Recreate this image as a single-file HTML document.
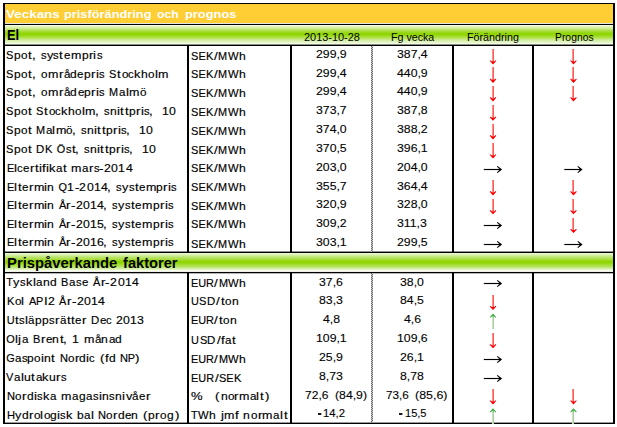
<!DOCTYPE html>
<html><head><meta charset="utf-8"><style>
html,body{margin:0;padding:0;background:#fff;width:617px;height:427px;overflow:hidden;position:relative}
.l,.t,.a{position:absolute}
.t{font-family:"Liberation Sans", sans-serif;white-space:pre;color:#000;transform-origin:0 0}
.v{-webkit-text-stroke:0.15px #000}
.n{-webkit-text-stroke:0.1px #000}
.dotA{background:repeating-linear-gradient(to bottom,#666 0px,#666 1px,#c8c8c8 1px,#c8c8c8 2px)}
.dotB{background:repeating-linear-gradient(to bottom,#c8c8c8 0px,#c8c8c8 1px,#666 1px,#666 2px)}
</style></head><body>
<div class="l" style="left:5px;top:4px;width:608px;height:19px;background:#ffcd34"></div>
<div class="l" style="left:5px;top:23px;width:608px;height:1px;background:#e4e4e2"></div>
<div class="l" style="left:5px;top:25px;width:608px;height:19px;background:linear-gradient(to bottom,#f4fde0 0px,#f4fde0 1px,#e4f4c0 1px,#e4f4c0 2px,#d8f0a8 2px,#d8f0a8 3px,#cdeb90 3px,#cdeb90 4px,#c0e670 4px,#c0e670 5px,#b0e048 5px,#b0e048 6px,#a6dc38 6px,#a6dc38 7px,#9ad820 7px,#9ad820 8px,#90d600 8px,#90d600 9px,#90d600 9px,#90d600 10px,#98d818 10px,#98d818 11px,#a4dc30 11px,#a4dc30 12px,#b0e048 12px,#b0e048 13px,#bce468 13px,#bce468 14px,#c8e888 14px,#c8e888 15px,#d4eea4 15px,#d4eea4 16px,#dcf2b8 16px,#dcf2b8 17px,#e6f6cc 17px,#e6f6cc 18px,#f2fce0 18px,#f2fce0 19px)"></div>
<div class="l" style="left:5px;top:253px;width:608px;height:19px;background:linear-gradient(to bottom,#e8f8c8 0px,#e8f8c8 1px,#dcf2b4 1px,#dcf2b4 2px,#d0eca0 2px,#d0eca0 3px,#c4e880 3px,#c4e880 4px,#b8e468 4px,#b8e468 5px,#b0e050 5px,#b0e050 6px,#a6dc3a 6px,#a6dc3a 7px,#9ad820 7px,#9ad820 8px,#90d600 8px,#90d600 9px,#90d600 9px,#90d600 10px,#98d818 10px,#98d818 11px,#a4dc30 11px,#a4dc30 12px,#ace048 12px,#ace048 13px,#b4e25a 13px,#b4e25a 14px,#c4e880 14px,#c4e880 15px,#d2eea0 15px,#d2eea0 16px,#e2f4c4 16px,#e2f4c4 17px,#f8fee8 17px,#f8fee8 18px,#eeeee8 18px,#eeeee8 19px)"></div>
<div class="l" style="left:3px;top:3px;width:612px;height:1px;background:#000"></div>
<div class="l" style="left:3px;top:24px;width:612px;height:1px;background:#000"></div>
<div class="l" style="left:3px;top:44px;width:612px;height:1px;background:#8a8a84"></div>
<div class="l" style="left:3px;top:45px;width:612px;height:1px;background:#000"></div>
<div class="l" style="left:3px;top:251px;width:612px;height:1px;background:#909090"></div>
<div class="l" style="left:3px;top:252px;width:612px;height:1px;background:#000"></div>
<div class="l" style="left:3px;top:272px;width:612px;height:1px;background:#000"></div>
<div class="l" style="left:3px;top:273px;width:612px;height:1px;background:#b4b4b4"></div>
<div class="l" style="left:3px;top:422px;width:612px;height:1px;background:#9a9a9a"></div>
<div class="l" style="left:3px;top:423px;width:612px;height:1px;background:#000"></div>
<div class="l" style="left:3px;top:3px;width:2px;height:421px;background:#000"></div>
<div class="l" style="left:613px;top:3px;width:2px;height:421px;background:#000"></div>
<div class="l" style="left:187px;top:45px;width:2px;height:207px;background:#000"></div>
<div class="l" style="left:187px;top:273px;width:2px;height:150px;background:#000"></div>
<div class="l" style="left:290px;top:45px;width:2px;height:207px;background:#000"></div>
<div class="l" style="left:290px;top:273px;width:2px;height:150px;background:#000"></div>
<div class="l" style="left:452px;top:45px;width:2px;height:207px;background:#000"></div>
<div class="l" style="left:452px;top:273px;width:2px;height:150px;background:#000"></div>
<div class="l" style="left:532px;top:45px;width:2px;height:207px;background:#000"></div>
<div class="l" style="left:532px;top:273px;width:2px;height:150px;background:#000"></div>
<div class="l dotA" style="left:371px;top:46px;width:1px;height:206px"></div>
<div class="l dotB" style="left:372px;top:46px;width:1px;height:206px"></div>
<div class="l dotA" style="left:371px;top:273px;width:1px;height:149px"></div>
<div class="l dotB" style="left:372px;top:273px;width:1px;height:149px"></div>
<div class="t " style="left:6.10px;top:9.00px;font-size:11.8px;line-height:11.8px;transform:scaleX(1.1390);font-weight:bold;color:#fff">Veckans</div>
<div class="t " style="left:63.90px;top:9.00px;font-size:11.8px;line-height:11.8px;transform:scaleX(1.0851);font-weight:bold;color:#fff">prisförändring</div>
<div class="t " style="left:157.20px;top:9.00px;font-size:11.8px;line-height:11.8px;transform:scaleX(1.0391);font-weight:bold;color:#fff">och</div>
<div class="t " style="left:184.70px;top:9.00px;font-size:11.8px;line-height:11.8px;transform:scaleX(1.0890);font-weight:bold;color:#fff">prognos</div>
<div class="t " style="left:7.00px;top:28.00px;font-size:14.4px;line-height:14.4px;transform:scaleX(0.8892);font-weight:bold">El</div>
<div class="t " style="left:6.90px;top:256.00px;font-size:14.6px;line-height:14.6px;transform:scaleX(1.0151);font-weight:bold">Prispåverkande</div>
<div class="t " style="left:123.40px;top:256.00px;font-size:14.6px;line-height:14.6px;transform:scaleX(1.0042);font-weight:bold">faktorer</div>
<div class="t " style="left:303.90px;top:32.00px;font-size:10.5px;line-height:10.5px;transform:scaleX(1.0408)">2013-10-28</div>
<div class="t " style="left:391.00px;top:32.00px;font-size:10.5px;line-height:10.5px;transform:scaleX(1.0162)">Fg vecka</div>
<div class="t " style="left:467.30px;top:32.00px;font-size:10.5px;line-height:10.5px;transform:scaleX(1.0221)">Förändring</div>
<div class="t " style="left:554.60px;top:32.00px;font-size:10.5px;line-height:10.5px;transform:scaleX(0.9869)">Prognos</div>
<div class="t v" style="left:6.30px;top:50px;font-size:10.9px;line-height:10.9px;transform:scaleX(1.010)">S</div>
<div class="t v" style="left:14.06px;top:50px;font-size:10.9px;line-height:10.9px;transform:scaleX(1.101)">p</div>
<div class="t v" style="left:21.13px;top:50px;font-size:10.9px;line-height:10.9px;transform:scaleX(1.073)">o</div>
<div class="t v" style="left:28.22px;top:50px;font-size:10.9px;line-height:10.9px;transform:scaleX(1.220)">t</div>
<div class="t v" style="left:31.52px;top:50px;font-size:10.9px;line-height:10.9px;transform:scaleX(1.220)">,</div>
<div class="t v" style="left:40.60px;top:50px;font-size:10.9px;line-height:10.9px;transform:scaleX(1.024)">s</div>
<div class="t v" style="left:46.54px;top:50px;font-size:10.9px;line-height:10.9px;transform:scaleX(1.170)">y</div>
<div class="t v" style="left:53.27px;top:50px;font-size:10.9px;line-height:10.9px;transform:scaleX(1.024)">s</div>
<div class="t v" style="left:59.41px;top:50px;font-size:10.9px;line-height:10.9px;transform:scaleX(1.220)">t</div>
<div class="t v" style="left:63.69px;top:50px;font-size:10.9px;line-height:10.9px;transform:scaleX(1.053)">e</div>
<div class="t v" style="left:70.58px;top:50px;font-size:10.9px;line-height:10.9px;transform:scaleX(1.148)">m</div>
<div class="t v" style="left:81.51px;top:50px;font-size:10.9px;line-height:10.9px;transform:scaleX(1.101)">p</div>
<div class="t v" style="left:88.60px;top:50px;font-size:10.9px;line-height:10.9px;transform:scaleX(1.220)">r</div>
<div class="t v" style="left:93.32px;top:50px;font-size:10.9px;line-height:10.9px;transform:scaleX(1.214)">i</div>
<div class="t v" style="left:96.52px;top:50px;font-size:10.9px;line-height:10.9px;transform:scaleX(1.024)">s</div>
<div class="t v" style="left:191.10px;top:51px;font-size:10.9px;line-height:10.9px;transform:scaleX(1.010)">S</div>
<div class="t v" style="left:198.45px;top:51px;font-size:10.9px;line-height:10.9px;transform:scaleX(1.000)">E</div>
<div class="t v" style="left:205.72px;top:51px;font-size:10.9px;line-height:10.9px;transform:scaleX(1.024)">K</div>
<div class="t v" style="left:213.90px;top:51px;font-size:10.9px;line-height:10.9px;transform:scaleX(1.220)">/</div>
<div class="t v" style="left:218.35px;top:51px;font-size:10.9px;line-height:10.9px;transform:scaleX(1.001)">M</div>
<div class="t v" style="left:227.79px;top:51px;font-size:10.9px;line-height:10.9px;transform:scaleX(1.032)">W</div>
<div class="t v" style="left:238.72px;top:51px;font-size:10.9px;line-height:10.9px;transform:scaleX(1.119)">h</div>
<div class="t n" style="left:316.06px;top:49.00px;font-size:11.0px;line-height:11.0px;transform:scaleX(1.1150)">299,9</div>
<div class="t n" style="left:396.76px;top:49.00px;font-size:11.0px;line-height:11.0px;transform:scaleX(1.1150)">387,4</div>
<div class="l" style="left:492px;top:49px;width:1px;height:13px;background:#ff9a4a"></div><div class="l" style="left:493px;top:49px;width:1px;height:13px;background:#ff4d9a"></div><svg class="a" style="left:487px;top:58px" width="12" height="7" viewBox="487 58 12 7"><path d="M490.1 60.5L493.0 63.7L495.9 60.5" stroke="#ff0000" stroke-width="1.1" fill="none"/><path d="M490.8 61.4L495.2 61.4L493.0 64.0Z" fill="#ff0000"/></svg>
<div class="l" style="left:572px;top:49px;width:1px;height:13px;background:#ff9a4a"></div><div class="l" style="left:573px;top:49px;width:1px;height:13px;background:#ff4d9a"></div><svg class="a" style="left:567px;top:58px" width="13" height="7" viewBox="567 58 13 7"><path d="M570.6 60.5L573.5 63.7L576.4 60.5" stroke="#ff0000" stroke-width="1.1" fill="none"/><path d="M571.3 61.4L575.7 61.4L573.5 64.0Z" fill="#ff0000"/></svg>
<div class="t v" style="left:6.30px;top:69px;font-size:10.9px;line-height:10.9px;transform:scaleX(1.010)">S</div>
<div class="t v" style="left:14.08px;top:69px;font-size:10.9px;line-height:10.9px;transform:scaleX(1.101)">p</div>
<div class="t v" style="left:21.16px;top:69px;font-size:10.9px;line-height:10.9px;transform:scaleX(1.073)">o</div>
<div class="t v" style="left:28.26px;top:69px;font-size:10.9px;line-height:10.9px;transform:scaleX(1.220)">t</div>
<div class="t v" style="left:31.57px;top:69px;font-size:10.9px;line-height:10.9px;transform:scaleX(1.220)">,</div>
<div class="t v" style="left:40.69px;top:69px;font-size:10.9px;line-height:10.9px;transform:scaleX(1.073)">o</div>
<div class="t v" style="left:47.72px;top:69px;font-size:10.9px;line-height:10.9px;transform:scaleX(1.148)">m</div>
<div class="t v" style="left:58.68px;top:69px;font-size:10.9px;line-height:10.9px;transform:scaleX(1.220)">r</div>
<div class="t v" style="left:63.52px;top:69px;font-size:10.9px;line-height:10.9px;transform:scaleX(1.063)">å</div>
<div class="t v" style="left:70.37px;top:69px;font-size:10.9px;line-height:10.9px;transform:scaleX(1.101)">d</div>
<div class="t v" style="left:77.45px;top:69px;font-size:10.9px;line-height:10.9px;transform:scaleX(1.053)">e</div>
<div class="t v" style="left:84.24px;top:69px;font-size:10.9px;line-height:10.9px;transform:scaleX(1.101)">p</div>
<div class="t v" style="left:91.34px;top:69px;font-size:10.9px;line-height:10.9px;transform:scaleX(1.220)">r</div>
<div class="t v" style="left:96.07px;top:69px;font-size:10.9px;line-height:10.9px;transform:scaleX(1.214)">i</div>
<div class="t v" style="left:99.28px;top:69px;font-size:10.9px;line-height:10.9px;transform:scaleX(1.024)">s</div>
<div class="t v" style="left:109.26px;top:69px;font-size:10.9px;line-height:10.9px;transform:scaleX(1.010)">S</div>
<div class="t v" style="left:117.23px;top:69px;font-size:10.9px;line-height:10.9px;transform:scaleX(1.220)">t</div>
<div class="t v" style="left:121.52px;top:69px;font-size:10.9px;line-height:10.9px;transform:scaleX(1.073)">o</div>
<div class="t v" style="left:128.39px;top:69px;font-size:10.9px;line-height:10.9px;transform:scaleX(1.024)">c</div>
<div class="t v" style="left:134.35px;top:69px;font-size:10.9px;line-height:10.9px;transform:scaleX(1.170)">k</div>
<div class="t v" style="left:141.13px;top:69px;font-size:10.9px;line-height:10.9px;transform:scaleX(1.119)">h</div>
<div class="t v" style="left:148.33px;top:69px;font-size:10.9px;line-height:10.9px;transform:scaleX(1.073)">o</div>
<div class="t v" style="left:155.12px;top:69px;font-size:10.9px;line-height:10.9px;transform:scaleX(1.214)">l</div>
<div class="t v" style="left:158.48px;top:69px;font-size:10.9px;line-height:10.9px;transform:scaleX(1.148)">m</div>
<div class="t v" style="left:191.10px;top:69px;font-size:10.9px;line-height:10.9px;transform:scaleX(1.010)">S</div>
<div class="t v" style="left:198.45px;top:69px;font-size:10.9px;line-height:10.9px;transform:scaleX(1.000)">E</div>
<div class="t v" style="left:205.72px;top:69px;font-size:10.9px;line-height:10.9px;transform:scaleX(1.024)">K</div>
<div class="t v" style="left:213.90px;top:69px;font-size:10.9px;line-height:10.9px;transform:scaleX(1.220)">/</div>
<div class="t v" style="left:218.35px;top:69px;font-size:10.9px;line-height:10.9px;transform:scaleX(1.001)">M</div>
<div class="t v" style="left:227.79px;top:69px;font-size:10.9px;line-height:10.9px;transform:scaleX(1.032)">W</div>
<div class="t v" style="left:238.72px;top:69px;font-size:10.9px;line-height:10.9px;transform:scaleX(1.119)">h</div>
<div class="t n" style="left:316.06px;top:68.00px;font-size:11.0px;line-height:11.0px;transform:scaleX(1.1150)">299,4</div>
<div class="t n" style="left:396.76px;top:68.00px;font-size:11.0px;line-height:11.0px;transform:scaleX(1.1150)">440,9</div>
<div class="l" style="left:492px;top:67px;width:1px;height:13px;background:#ff9a4a"></div><div class="l" style="left:493px;top:67px;width:1px;height:13px;background:#ff4d9a"></div><svg class="a" style="left:487px;top:76px" width="12" height="8" viewBox="487 76 12 8"><path d="M490.1 78.9L493.0 82.10000000000001L495.9 78.9" stroke="#ff0000" stroke-width="1.1" fill="none"/><path d="M490.8 79.80000000000001L495.2 79.80000000000001L493.0 82.4Z" fill="#ff0000"/></svg>
<div class="l" style="left:572px;top:67px;width:1px;height:13px;background:#ff9a4a"></div><div class="l" style="left:573px;top:67px;width:1px;height:13px;background:#ff4d9a"></div><svg class="a" style="left:567px;top:76px" width="13" height="8" viewBox="567 76 13 8"><path d="M570.6 78.9L573.5 82.10000000000001L576.4 78.9" stroke="#ff0000" stroke-width="1.1" fill="none"/><path d="M571.3 79.80000000000001L575.7 79.80000000000001L573.5 82.4Z" fill="#ff0000"/></svg>
<div class="t v" style="left:6.30px;top:87px;font-size:10.9px;line-height:10.9px;transform:scaleX(1.010)">S</div>
<div class="t v" style="left:14.08px;top:87px;font-size:10.9px;line-height:10.9px;transform:scaleX(1.101)">p</div>
<div class="t v" style="left:21.18px;top:87px;font-size:10.9px;line-height:10.9px;transform:scaleX(1.073)">o</div>
<div class="t v" style="left:28.29px;top:87px;font-size:10.9px;line-height:10.9px;transform:scaleX(1.220)">t</div>
<div class="t v" style="left:31.60px;top:87px;font-size:10.9px;line-height:10.9px;transform:scaleX(1.220)">,</div>
<div class="t v" style="left:40.74px;top:87px;font-size:10.9px;line-height:10.9px;transform:scaleX(1.073)">o</div>
<div class="t v" style="left:47.78px;top:87px;font-size:10.9px;line-height:10.9px;transform:scaleX(1.148)">m</div>
<div class="t v" style="left:58.75px;top:87px;font-size:10.9px;line-height:10.9px;transform:scaleX(1.220)">r</div>
<div class="t v" style="left:63.59px;top:87px;font-size:10.9px;line-height:10.9px;transform:scaleX(1.063)">å</div>
<div class="t v" style="left:70.46px;top:87px;font-size:10.9px;line-height:10.9px;transform:scaleX(1.101)">d</div>
<div class="t v" style="left:77.55px;top:87px;font-size:10.9px;line-height:10.9px;transform:scaleX(1.053)">e</div>
<div class="t v" style="left:84.34px;top:87px;font-size:10.9px;line-height:10.9px;transform:scaleX(1.101)">p</div>
<div class="t v" style="left:91.45px;top:87px;font-size:10.9px;line-height:10.9px;transform:scaleX(1.220)">r</div>
<div class="t v" style="left:96.19px;top:87px;font-size:10.9px;line-height:10.9px;transform:scaleX(1.214)">i</div>
<div class="t v" style="left:99.40px;top:87px;font-size:10.9px;line-height:10.9px;transform:scaleX(1.024)">s</div>
<div class="t v" style="left:109.45px;top:87px;font-size:10.9px;line-height:10.9px;transform:scaleX(1.001)">M</div>
<div class="t v" style="left:119.03px;top:87px;font-size:10.9px;line-height:10.9px;transform:scaleX(1.063)">a</div>
<div class="t v" style="left:125.78px;top:87px;font-size:10.9px;line-height:10.9px;transform:scaleX(1.214)">l</div>
<div class="t v" style="left:129.14px;top:87px;font-size:10.9px;line-height:10.9px;transform:scaleX(1.148)">m</div>
<div class="t v" style="left:140.10px;top:87px;font-size:10.9px;line-height:10.9px;transform:scaleX(1.073)">ö</div>
<div class="t v" style="left:191.10px;top:88px;font-size:10.9px;line-height:10.9px;transform:scaleX(1.010)">S</div>
<div class="t v" style="left:198.45px;top:88px;font-size:10.9px;line-height:10.9px;transform:scaleX(1.000)">E</div>
<div class="t v" style="left:205.72px;top:88px;font-size:10.9px;line-height:10.9px;transform:scaleX(1.024)">K</div>
<div class="t v" style="left:213.90px;top:88px;font-size:10.9px;line-height:10.9px;transform:scaleX(1.220)">/</div>
<div class="t v" style="left:218.35px;top:88px;font-size:10.9px;line-height:10.9px;transform:scaleX(1.001)">M</div>
<div class="t v" style="left:227.79px;top:88px;font-size:10.9px;line-height:10.9px;transform:scaleX(1.032)">W</div>
<div class="t v" style="left:238.72px;top:88px;font-size:10.9px;line-height:10.9px;transform:scaleX(1.119)">h</div>
<div class="t n" style="left:316.06px;top:86.00px;font-size:11.0px;line-height:11.0px;transform:scaleX(1.1150)">299,4</div>
<div class="t n" style="left:396.76px;top:86.00px;font-size:11.0px;line-height:11.0px;transform:scaleX(1.1150)">440,9</div>
<div class="l" style="left:492px;top:86px;width:1px;height:12px;background:#ff9a4a"></div><div class="l" style="left:493px;top:86px;width:1px;height:12px;background:#ff4d9a"></div><svg class="a" style="left:487px;top:94px" width="12" height="8" viewBox="487 94 12 8"><path d="M490.1 97.4L493.0 100.60000000000001L495.9 97.4" stroke="#ff0000" stroke-width="1.1" fill="none"/><path d="M490.8 98.30000000000001L495.2 98.30000000000001L493.0 100.9Z" fill="#ff0000"/></svg>
<div class="l" style="left:572px;top:86px;width:1px;height:12px;background:#ff9a4a"></div><div class="l" style="left:573px;top:86px;width:1px;height:12px;background:#ff4d9a"></div><svg class="a" style="left:567px;top:94px" width="13" height="8" viewBox="567 94 13 8"><path d="M570.6 97.4L573.5 100.60000000000001L576.4 97.4" stroke="#ff0000" stroke-width="1.1" fill="none"/><path d="M571.3 98.30000000000001L575.7 98.30000000000001L573.5 100.9Z" fill="#ff0000"/></svg>
<div class="t v" style="left:6.30px;top:106px;font-size:10.9px;line-height:10.9px;transform:scaleX(1.010)">S</div>
<div class="t v" style="left:14.02px;top:106px;font-size:10.9px;line-height:10.9px;transform:scaleX(1.101)">p</div>
<div class="t v" style="left:21.04px;top:106px;font-size:10.9px;line-height:10.9px;transform:scaleX(1.073)">o</div>
<div class="t v" style="left:28.10px;top:106px;font-size:10.9px;line-height:10.9px;transform:scaleX(1.220)">t</div>
<div class="t v" style="left:36.34px;top:106px;font-size:10.9px;line-height:10.9px;transform:scaleX(1.010)">S</div>
<div class="t v" style="left:44.25px;top:106px;font-size:10.9px;line-height:10.9px;transform:scaleX(1.220)">t</div>
<div class="t v" style="left:48.50px;top:106px;font-size:10.9px;line-height:10.9px;transform:scaleX(1.073)">o</div>
<div class="t v" style="left:55.32px;top:106px;font-size:10.9px;line-height:10.9px;transform:scaleX(1.024)">c</div>
<div class="t v" style="left:61.23px;top:106px;font-size:10.9px;line-height:10.9px;transform:scaleX(1.170)">k</div>
<div class="t v" style="left:67.96px;top:106px;font-size:10.9px;line-height:10.9px;transform:scaleX(1.119)">h</div>
<div class="t v" style="left:75.09px;top:106px;font-size:10.9px;line-height:10.9px;transform:scaleX(1.073)">o</div>
<div class="t v" style="left:81.85px;top:106px;font-size:10.9px;line-height:10.9px;transform:scaleX(1.214)">l</div>
<div class="t v" style="left:85.15px;top:106px;font-size:10.9px;line-height:10.9px;transform:scaleX(1.148)">m</div>
<div class="t v" style="left:95.05px;top:106px;font-size:10.9px;line-height:10.9px;transform:scaleX(1.220)">,</div>
<div class="t v" style="left:104.07px;top:106px;font-size:10.9px;line-height:10.9px;transform:scaleX(1.024)">s</div>
<div class="t v" style="left:109.99px;top:106px;font-size:10.9px;line-height:10.9px;transform:scaleX(1.119)">n</div>
<div class="t v" style="left:117.03px;top:106px;font-size:10.9px;line-height:10.9px;transform:scaleX(1.214)">i</div>
<div class="t v" style="left:120.42px;top:106px;font-size:10.9px;line-height:10.9px;transform:scaleX(1.220)">t</div>
<div class="t v" style="left:124.87px;top:106px;font-size:10.9px;line-height:10.9px;transform:scaleX(1.220)">t</div>
<div class="t v" style="left:129.12px;top:106px;font-size:10.9px;line-height:10.9px;transform:scaleX(1.101)">p</div>
<div class="t v" style="left:136.17px;top:106px;font-size:10.9px;line-height:10.9px;transform:scaleX(1.220)">r</div>
<div class="t v" style="left:140.87px;top:106px;font-size:10.9px;line-height:10.9px;transform:scaleX(1.214)">i</div>
<div class="t v" style="left:144.04px;top:106px;font-size:10.9px;line-height:10.9px;transform:scaleX(1.024)">s</div>
<div class="t v" style="left:148.98px;top:106px;font-size:10.9px;line-height:10.9px;transform:scaleX(1.220)">,</div>
<div class="t v" style="left:162.00px;top:106px;font-size:10.9px;line-height:10.9px;transform:scaleX(1.125)">1</div>
<div class="t v" style="left:169.18px;top:106px;font-size:10.9px;line-height:10.9px;transform:scaleX(1.125)">0</div>
<div class="t v" style="left:191.10px;top:107px;font-size:10.9px;line-height:10.9px;transform:scaleX(1.010)">S</div>
<div class="t v" style="left:198.45px;top:107px;font-size:10.9px;line-height:10.9px;transform:scaleX(1.000)">E</div>
<div class="t v" style="left:205.72px;top:107px;font-size:10.9px;line-height:10.9px;transform:scaleX(1.024)">K</div>
<div class="t v" style="left:213.90px;top:107px;font-size:10.9px;line-height:10.9px;transform:scaleX(1.220)">/</div>
<div class="t v" style="left:218.35px;top:107px;font-size:10.9px;line-height:10.9px;transform:scaleX(1.001)">M</div>
<div class="t v" style="left:227.79px;top:107px;font-size:10.9px;line-height:10.9px;transform:scaleX(1.032)">W</div>
<div class="t v" style="left:238.72px;top:107px;font-size:10.9px;line-height:10.9px;transform:scaleX(1.119)">h</div>
<div class="t n" style="left:316.06px;top:105.00px;font-size:11.0px;line-height:11.0px;transform:scaleX(1.1150)">373,7</div>
<div class="t n" style="left:396.76px;top:105.00px;font-size:11.0px;line-height:11.0px;transform:scaleX(1.1150)">387,8</div>
<div class="l" style="left:492px;top:105px;width:1px;height:13px;background:#ff9a4a"></div><div class="l" style="left:493px;top:105px;width:1px;height:13px;background:#ff4d9a"></div><svg class="a" style="left:487px;top:114px" width="12" height="8" viewBox="487 114 12 8"><path d="M490.1 116.8L493.0 120.0L495.9 116.8" stroke="#ff0000" stroke-width="1.1" fill="none"/><path d="M490.8 117.7L495.2 117.7L493.0 120.3Z" fill="#ff0000"/></svg>
<div class="t v" style="left:6.30px;top:125px;font-size:10.9px;line-height:10.9px;transform:scaleX(1.010)">S</div>
<div class="t v" style="left:13.97px;top:125px;font-size:10.9px;line-height:10.9px;transform:scaleX(1.101)">p</div>
<div class="t v" style="left:20.95px;top:125px;font-size:10.9px;line-height:10.9px;transform:scaleX(1.073)">o</div>
<div class="t v" style="left:27.97px;top:125px;font-size:10.9px;line-height:10.9px;transform:scaleX(1.220)">t</div>
<div class="t v" style="left:36.19px;top:125px;font-size:10.9px;line-height:10.9px;transform:scaleX(1.001)">M</div>
<div class="t v" style="left:45.64px;top:125px;font-size:10.9px;line-height:10.9px;transform:scaleX(1.063)">a</div>
<div class="t v" style="left:52.31px;top:125px;font-size:10.9px;line-height:10.9px;transform:scaleX(1.214)">l</div>
<div class="t v" style="left:55.56px;top:125px;font-size:10.9px;line-height:10.9px;transform:scaleX(1.148)">m</div>
<div class="t v" style="left:66.38px;top:125px;font-size:10.9px;line-height:10.9px;transform:scaleX(1.073)">ö</div>
<div class="t v" style="left:72.23px;top:125px;font-size:10.9px;line-height:10.9px;transform:scaleX(1.220)">,</div>
<div class="t v" style="left:81.19px;top:125px;font-size:10.9px;line-height:10.9px;transform:scaleX(1.024)">s</div>
<div class="t v" style="left:87.06px;top:125px;font-size:10.9px;line-height:10.9px;transform:scaleX(1.119)">n</div>
<div class="t v" style="left:94.07px;top:125px;font-size:10.9px;line-height:10.9px;transform:scaleX(1.214)">i</div>
<div class="t v" style="left:97.44px;top:125px;font-size:10.9px;line-height:10.9px;transform:scaleX(1.220)">t</div>
<div class="t v" style="left:101.86px;top:125px;font-size:10.9px;line-height:10.9px;transform:scaleX(1.220)">t</div>
<div class="t v" style="left:106.08px;top:125px;font-size:10.9px;line-height:10.9px;transform:scaleX(1.101)">p</div>
<div class="t v" style="left:113.09px;top:125px;font-size:10.9px;line-height:10.9px;transform:scaleX(1.220)">r</div>
<div class="t v" style="left:117.77px;top:125px;font-size:10.9px;line-height:10.9px;transform:scaleX(1.214)">i</div>
<div class="t v" style="left:120.91px;top:125px;font-size:10.9px;line-height:10.9px;transform:scaleX(1.024)">s</div>
<div class="t v" style="left:125.81px;top:125px;font-size:10.9px;line-height:10.9px;transform:scaleX(1.220)">,</div>
<div class="t v" style="left:138.75px;top:125px;font-size:10.9px;line-height:10.9px;transform:scaleX(1.125)">1</div>
<div class="t v" style="left:145.88px;top:125px;font-size:10.9px;line-height:10.9px;transform:scaleX(1.125)">0</div>
<div class="t v" style="left:191.10px;top:126px;font-size:10.9px;line-height:10.9px;transform:scaleX(1.010)">S</div>
<div class="t v" style="left:198.45px;top:126px;font-size:10.9px;line-height:10.9px;transform:scaleX(1.000)">E</div>
<div class="t v" style="left:205.72px;top:126px;font-size:10.9px;line-height:10.9px;transform:scaleX(1.024)">K</div>
<div class="t v" style="left:213.90px;top:126px;font-size:10.9px;line-height:10.9px;transform:scaleX(1.220)">/</div>
<div class="t v" style="left:218.35px;top:126px;font-size:10.9px;line-height:10.9px;transform:scaleX(1.001)">M</div>
<div class="t v" style="left:227.79px;top:126px;font-size:10.9px;line-height:10.9px;transform:scaleX(1.032)">W</div>
<div class="t v" style="left:238.72px;top:126px;font-size:10.9px;line-height:10.9px;transform:scaleX(1.119)">h</div>
<div class="t n" style="left:316.06px;top:124.00px;font-size:11.0px;line-height:11.0px;transform:scaleX(1.1150)">374,0</div>
<div class="t n" style="left:396.76px;top:124.00px;font-size:11.0px;line-height:11.0px;transform:scaleX(1.1150)">388,2</div>
<div class="l" style="left:492px;top:124px;width:1px;height:12px;background:#ff9a4a"></div><div class="l" style="left:493px;top:124px;width:1px;height:12px;background:#ff4d9a"></div><svg class="a" style="left:487px;top:132px" width="12" height="8" viewBox="487 132 12 8"><path d="M490.1 135.39999999999998L493.0 138.59999999999997L495.9 135.39999999999998" stroke="#ff0000" stroke-width="1.1" fill="none"/><path d="M490.8 136.29999999999998L495.2 136.29999999999998L493.0 138.89999999999998Z" fill="#ff0000"/></svg>
<div class="t v" style="left:6.30px;top:144px;font-size:10.9px;line-height:10.9px;transform:scaleX(1.010)">S</div>
<div class="t v" style="left:14.01px;top:144px;font-size:10.9px;line-height:10.9px;transform:scaleX(1.101)">p</div>
<div class="t v" style="left:21.03px;top:144px;font-size:10.9px;line-height:10.9px;transform:scaleX(1.073)">o</div>
<div class="t v" style="left:28.08px;top:144px;font-size:10.9px;line-height:10.9px;transform:scaleX(1.220)">t</div>
<div class="t v" style="left:36.34px;top:144px;font-size:10.9px;line-height:10.9px;transform:scaleX(1.048)">D</div>
<div class="t v" style="left:45.00px;top:144px;font-size:10.9px;line-height:10.9px;transform:scaleX(1.024)">K</div>
<div class="t v" style="left:56.81px;top:144px;font-size:10.9px;line-height:10.9px;transform:scaleX(1.000)">Ö</div>
<div class="t v" style="left:65.63px;top:144px;font-size:10.9px;line-height:10.9px;transform:scaleX(1.024)">s</div>
<div class="t v" style="left:71.74px;top:144px;font-size:10.9px;line-height:10.9px;transform:scaleX(1.220)">t</div>
<div class="t v" style="left:75.01px;top:144px;font-size:10.9px;line-height:10.9px;transform:scaleX(1.220)">,</div>
<div class="t v" style="left:84.03px;top:144px;font-size:10.9px;line-height:10.9px;transform:scaleX(1.024)">s</div>
<div class="t v" style="left:89.93px;top:144px;font-size:10.9px;line-height:10.9px;transform:scaleX(1.119)">n</div>
<div class="t v" style="left:96.97px;top:144px;font-size:10.9px;line-height:10.9px;transform:scaleX(1.214)">i</div>
<div class="t v" style="left:100.36px;top:144px;font-size:10.9px;line-height:10.9px;transform:scaleX(1.220)">t</div>
<div class="t v" style="left:104.81px;top:144px;font-size:10.9px;line-height:10.9px;transform:scaleX(1.220)">t</div>
<div class="t v" style="left:109.05px;top:144px;font-size:10.9px;line-height:10.9px;transform:scaleX(1.101)">p</div>
<div class="t v" style="left:116.10px;top:144px;font-size:10.9px;line-height:10.9px;transform:scaleX(1.220)">r</div>
<div class="t v" style="left:120.80px;top:144px;font-size:10.9px;line-height:10.9px;transform:scaleX(1.214)">i</div>
<div class="t v" style="left:123.96px;top:144px;font-size:10.9px;line-height:10.9px;transform:scaleX(1.024)">s</div>
<div class="t v" style="left:128.90px;top:144px;font-size:10.9px;line-height:10.9px;transform:scaleX(1.220)">,</div>
<div class="t v" style="left:141.91px;top:144px;font-size:10.9px;line-height:10.9px;transform:scaleX(1.125)">1</div>
<div class="t v" style="left:149.08px;top:144px;font-size:10.9px;line-height:10.9px;transform:scaleX(1.125)">0</div>
<div class="t v" style="left:191.10px;top:145px;font-size:10.9px;line-height:10.9px;transform:scaleX(1.010)">S</div>
<div class="t v" style="left:198.45px;top:145px;font-size:10.9px;line-height:10.9px;transform:scaleX(1.000)">E</div>
<div class="t v" style="left:205.72px;top:145px;font-size:10.9px;line-height:10.9px;transform:scaleX(1.024)">K</div>
<div class="t v" style="left:213.90px;top:145px;font-size:10.9px;line-height:10.9px;transform:scaleX(1.220)">/</div>
<div class="t v" style="left:218.35px;top:145px;font-size:10.9px;line-height:10.9px;transform:scaleX(1.001)">M</div>
<div class="t v" style="left:227.79px;top:145px;font-size:10.9px;line-height:10.9px;transform:scaleX(1.032)">W</div>
<div class="t v" style="left:238.72px;top:145px;font-size:10.9px;line-height:10.9px;transform:scaleX(1.119)">h</div>
<div class="t n" style="left:316.06px;top:143.00px;font-size:11.0px;line-height:11.0px;transform:scaleX(1.1150)">370,5</div>
<div class="t n" style="left:396.76px;top:143.00px;font-size:11.0px;line-height:11.0px;transform:scaleX(1.1150)">396,1</div>
<div class="l" style="left:492px;top:143px;width:1px;height:13px;background:#ff9a4a"></div><div class="l" style="left:493px;top:143px;width:1px;height:13px;background:#ff4d9a"></div><svg class="a" style="left:487px;top:152px" width="12" height="7" viewBox="487 152 12 7"><path d="M490.1 154.5L493.0 157.7L495.9 154.5" stroke="#ff0000" stroke-width="1.1" fill="none"/><path d="M490.8 155.4L495.2 155.4L493.0 158.0Z" fill="#ff0000"/></svg>
<div class="t v" style="left:7.10px;top:163px;font-size:10.9px;line-height:10.9px;transform:scaleX(1.000)">E</div>
<div class="t v" style="left:14.34px;top:163px;font-size:10.9px;line-height:10.9px;transform:scaleX(1.214)">l</div>
<div class="t v" style="left:17.48px;top:163px;font-size:10.9px;line-height:10.9px;transform:scaleX(1.024)">c</div>
<div class="t v" style="left:23.34px;top:163px;font-size:10.9px;line-height:10.9px;transform:scaleX(1.053)">e</div>
<div class="t v" style="left:30.05px;top:163px;font-size:10.9px;line-height:10.9px;transform:scaleX(1.220)">r</div>
<div class="t v" style="left:35.02px;top:163px;font-size:10.9px;line-height:10.9px;transform:scaleX(1.220)">t</div>
<div class="t v" style="left:39.14px;top:163px;font-size:10.9px;line-height:10.9px;transform:scaleX(1.214)">i</div>
<div class="t v" style="left:42.27px;top:163px;font-size:10.9px;line-height:10.9px;transform:scaleX(1.220)">f</div>
<div class="t v" style="left:46.16px;top:163px;font-size:10.9px;line-height:10.9px;transform:scaleX(1.214)">i</div>
<div class="t v" style="left:49.31px;top:163px;font-size:10.9px;line-height:10.9px;transform:scaleX(1.170)">k</div>
<div class="t v" style="left:55.99px;top:163px;font-size:10.9px;line-height:10.9px;transform:scaleX(1.063)">a</div>
<div class="t v" style="left:62.94px;top:163px;font-size:10.9px;line-height:10.9px;transform:scaleX(1.220)">t</div>
<div class="t v" style="left:71.18px;top:163px;font-size:10.9px;line-height:10.9px;transform:scaleX(1.148)">m</div>
<div class="t v" style="left:81.99px;top:163px;font-size:10.9px;line-height:10.9px;transform:scaleX(1.063)">a</div>
<div class="t v" style="left:88.77px;top:163px;font-size:10.9px;line-height:10.9px;transform:scaleX(1.220)">r</div>
<div class="t v" style="left:93.50px;top:163px;font-size:10.9px;line-height:10.9px;transform:scaleX(1.024)">s</div>
<div class="t v" style="left:99.41px;top:163px;font-size:10.9px;line-height:10.9px;transform:scaleX(1.220)">-</div>
<div class="t v" style="left:104.19px;top:163px;font-size:10.9px;line-height:10.9px;transform:scaleX(1.125)">2</div>
<div class="t v" style="left:111.32px;top:163px;font-size:10.9px;line-height:10.9px;transform:scaleX(1.125)">0</div>
<div class="t v" style="left:118.45px;top:163px;font-size:10.9px;line-height:10.9px;transform:scaleX(1.125)">1</div>
<div class="t v" style="left:125.58px;top:163px;font-size:10.9px;line-height:10.9px;transform:scaleX(1.125)">4</div>
<div class="t v" style="left:191.10px;top:163px;font-size:10.9px;line-height:10.9px;transform:scaleX(1.010)">S</div>
<div class="t v" style="left:198.45px;top:163px;font-size:10.9px;line-height:10.9px;transform:scaleX(1.000)">E</div>
<div class="t v" style="left:205.72px;top:163px;font-size:10.9px;line-height:10.9px;transform:scaleX(1.024)">K</div>
<div class="t v" style="left:213.90px;top:163px;font-size:10.9px;line-height:10.9px;transform:scaleX(1.220)">/</div>
<div class="t v" style="left:218.35px;top:163px;font-size:10.9px;line-height:10.9px;transform:scaleX(1.001)">M</div>
<div class="t v" style="left:227.79px;top:163px;font-size:10.9px;line-height:10.9px;transform:scaleX(1.032)">W</div>
<div class="t v" style="left:238.72px;top:163px;font-size:10.9px;line-height:10.9px;transform:scaleX(1.119)">h</div>
<div class="t n" style="left:316.06px;top:162.00px;font-size:11.0px;line-height:11.0px;transform:scaleX(1.1150)">203,0</div>
<div class="t n" style="left:396.76px;top:162.00px;font-size:11.0px;line-height:11.0px;transform:scaleX(1.1150)">204,0</div>
<svg class="a" style="left:482px;top:164px" width="21" height="11" viewBox="482 164 21 11"><path d="M483.8 169.5H500.7" stroke="#000" stroke-width="1.15" fill="none"/><path d="M497.2 166.4L501.2 169.5L497.2 172.6" stroke="#000" stroke-width="1.1" fill="none"/><path d="M498.9 168.0L501.5 169.5L498.9 171.0Z" fill="#000"/></svg>
<svg class="a" style="left:563px;top:164px" width="20" height="11" viewBox="563 164 20 11"><path d="M564.3 169.5H581.2" stroke="#000" stroke-width="1.15" fill="none"/><path d="M577.7 166.4L581.7 169.5L577.7 172.6" stroke="#000" stroke-width="1.1" fill="none"/><path d="M579.4 168.0L582.0 169.5L579.4 171.0Z" fill="#000"/></svg>
<div class="t v" style="left:7.10px;top:182px;font-size:10.9px;line-height:10.9px;transform:scaleX(1.000)">E</div>
<div class="t v" style="left:14.36px;top:182px;font-size:10.9px;line-height:10.9px;transform:scaleX(1.214)">l</div>
<div class="t v" style="left:17.74px;top:182px;font-size:10.9px;line-height:10.9px;transform:scaleX(1.220)">t</div>
<div class="t v" style="left:21.95px;top:182px;font-size:10.9px;line-height:10.9px;transform:scaleX(1.053)">e</div>
<div class="t v" style="left:28.68px;top:182px;font-size:10.9px;line-height:10.9px;transform:scaleX(1.220)">r</div>
<div class="t v" style="left:33.55px;top:182px;font-size:10.9px;line-height:10.9px;transform:scaleX(1.148)">m</div>
<div class="t v" style="left:44.29px;top:182px;font-size:10.9px;line-height:10.9px;transform:scaleX(1.214)">i</div>
<div class="t v" style="left:47.47px;top:182px;font-size:10.9px;line-height:10.9px;transform:scaleX(1.119)">n</div>
<div class="t v" style="left:58.55px;top:182px;font-size:10.9px;line-height:10.9px;transform:scaleX(1.000)">Q</div>
<div class="t v" style="left:67.38px;top:182px;font-size:10.9px;line-height:10.9px;transform:scaleX(1.125)">1</div>
<div class="t v" style="left:74.57px;top:182px;font-size:10.9px;line-height:10.9px;transform:scaleX(1.220)">-</div>
<div class="t v" style="left:79.36px;top:182px;font-size:10.9px;line-height:10.9px;transform:scaleX(1.125)">2</div>
<div class="t v" style="left:86.51px;top:182px;font-size:10.9px;line-height:10.9px;transform:scaleX(1.125)">0</div>
<div class="t v" style="left:93.67px;top:182px;font-size:10.9px;line-height:10.9px;transform:scaleX(1.125)">1</div>
<div class="t v" style="left:100.82px;top:182px;font-size:10.9px;line-height:10.9px;transform:scaleX(1.125)">4</div>
<div class="t v" style="left:107.00px;top:182px;font-size:10.9px;line-height:10.9px;transform:scaleX(1.220)">,</div>
<div class="t v" style="left:115.98px;top:182px;font-size:10.9px;line-height:10.9px;transform:scaleX(1.024)">s</div>
<div class="t v" style="left:121.85px;top:182px;font-size:10.9px;line-height:10.9px;transform:scaleX(1.170)">y</div>
<div class="t v" style="left:128.52px;top:182px;font-size:10.9px;line-height:10.9px;transform:scaleX(1.024)">s</div>
<div class="t v" style="left:134.61px;top:182px;font-size:10.9px;line-height:10.9px;transform:scaleX(1.220)">t</div>
<div class="t v" style="left:138.83px;top:182px;font-size:10.9px;line-height:10.9px;transform:scaleX(1.053)">e</div>
<div class="t v" style="left:145.62px;top:182px;font-size:10.9px;line-height:10.9px;transform:scaleX(1.148)">m</div>
<div class="t v" style="left:156.46px;top:182px;font-size:10.9px;line-height:10.9px;transform:scaleX(1.101)">p</div>
<div class="t v" style="left:163.48px;top:182px;font-size:10.9px;line-height:10.9px;transform:scaleX(1.220)">r</div>
<div class="t v" style="left:168.17px;top:182px;font-size:10.9px;line-height:10.9px;transform:scaleX(1.214)">i</div>
<div class="t v" style="left:171.32px;top:182px;font-size:10.9px;line-height:10.9px;transform:scaleX(1.024)">s</div>
<div class="t v" style="left:191.10px;top:182px;font-size:10.9px;line-height:10.9px;transform:scaleX(1.010)">S</div>
<div class="t v" style="left:198.45px;top:182px;font-size:10.9px;line-height:10.9px;transform:scaleX(1.000)">E</div>
<div class="t v" style="left:205.72px;top:182px;font-size:10.9px;line-height:10.9px;transform:scaleX(1.024)">K</div>
<div class="t v" style="left:213.90px;top:182px;font-size:10.9px;line-height:10.9px;transform:scaleX(1.220)">/</div>
<div class="t v" style="left:218.35px;top:182px;font-size:10.9px;line-height:10.9px;transform:scaleX(1.001)">M</div>
<div class="t v" style="left:227.79px;top:182px;font-size:10.9px;line-height:10.9px;transform:scaleX(1.032)">W</div>
<div class="t v" style="left:238.72px;top:182px;font-size:10.9px;line-height:10.9px;transform:scaleX(1.119)">h</div>
<div class="t n" style="left:316.06px;top:181.00px;font-size:11.0px;line-height:11.0px;transform:scaleX(1.1150)">355,7</div>
<div class="t n" style="left:396.76px;top:181.00px;font-size:11.0px;line-height:11.0px;transform:scaleX(1.1150)">364,4</div>
<div class="l" style="left:492px;top:180px;width:1px;height:12px;background:#ff9a4a"></div><div class="l" style="left:493px;top:180px;width:1px;height:12px;background:#ff4d9a"></div><svg class="a" style="left:487px;top:188px" width="12" height="8" viewBox="487 188 12 8"><path d="M490.1 191.39999999999998L493.0 194.59999999999997L495.9 191.39999999999998" stroke="#ff0000" stroke-width="1.1" fill="none"/><path d="M490.8 192.29999999999998L495.2 192.29999999999998L493.0 194.89999999999998Z" fill="#ff0000"/></svg>
<div class="l" style="left:572px;top:180px;width:1px;height:12px;background:#ff9a4a"></div><div class="l" style="left:573px;top:180px;width:1px;height:12px;background:#ff4d9a"></div><svg class="a" style="left:567px;top:188px" width="13" height="8" viewBox="567 188 13 8"><path d="M570.6 191.39999999999998L573.5 194.59999999999997L576.4 191.39999999999998" stroke="#ff0000" stroke-width="1.1" fill="none"/><path d="M571.3 192.29999999999998L575.7 192.29999999999998L573.5 194.89999999999998Z" fill="#ff0000"/></svg>
<div class="t v" style="left:7.10px;top:200px;font-size:10.9px;line-height:10.9px;transform:scaleX(1.000)">E</div>
<div class="t v" style="left:14.35px;top:200px;font-size:10.9px;line-height:10.9px;transform:scaleX(1.214)">l</div>
<div class="t v" style="left:17.73px;top:200px;font-size:10.9px;line-height:10.9px;transform:scaleX(1.220)">t</div>
<div class="t v" style="left:21.95px;top:200px;font-size:10.9px;line-height:10.9px;transform:scaleX(1.053)">e</div>
<div class="t v" style="left:28.67px;top:200px;font-size:10.9px;line-height:10.9px;transform:scaleX(1.220)">r</div>
<div class="t v" style="left:33.53px;top:200px;font-size:10.9px;line-height:10.9px;transform:scaleX(1.148)">m</div>
<div class="t v" style="left:44.28px;top:200px;font-size:10.9px;line-height:10.9px;transform:scaleX(1.214)">i</div>
<div class="t v" style="left:47.45px;top:200px;font-size:10.9px;line-height:10.9px;transform:scaleX(1.119)">n</div>
<div class="t v" style="left:58.52px;top:200px;font-size:10.9px;line-height:10.9px;transform:scaleX(1.008)">Å</div>
<div class="t v" style="left:66.21px;top:200px;font-size:10.9px;line-height:10.9px;transform:scaleX(1.220)">r</div>
<div class="t v" style="left:71.02px;top:200px;font-size:10.9px;line-height:10.9px;transform:scaleX(1.220)">-</div>
<div class="t v" style="left:75.81px;top:200px;font-size:10.9px;line-height:10.9px;transform:scaleX(1.125)">2</div>
<div class="t v" style="left:82.96px;top:200px;font-size:10.9px;line-height:10.9px;transform:scaleX(1.125)">0</div>
<div class="t v" style="left:90.11px;top:200px;font-size:10.9px;line-height:10.9px;transform:scaleX(1.125)">1</div>
<div class="t v" style="left:97.25px;top:200px;font-size:10.9px;line-height:10.9px;transform:scaleX(1.125)">4</div>
<div class="t v" style="left:103.43px;top:200px;font-size:10.9px;line-height:10.9px;transform:scaleX(1.220)">,</div>
<div class="t v" style="left:112.41px;top:200px;font-size:10.9px;line-height:10.9px;transform:scaleX(1.024)">s</div>
<div class="t v" style="left:118.28px;top:200px;font-size:10.9px;line-height:10.9px;transform:scaleX(1.170)">y</div>
<div class="t v" style="left:124.95px;top:200px;font-size:10.9px;line-height:10.9px;transform:scaleX(1.024)">s</div>
<div class="t v" style="left:131.03px;top:200px;font-size:10.9px;line-height:10.9px;transform:scaleX(1.220)">t</div>
<div class="t v" style="left:135.24px;top:200px;font-size:10.9px;line-height:10.9px;transform:scaleX(1.053)">e</div>
<div class="t v" style="left:142.03px;top:200px;font-size:10.9px;line-height:10.9px;transform:scaleX(1.148)">m</div>
<div class="t v" style="left:152.87px;top:200px;font-size:10.9px;line-height:10.9px;transform:scaleX(1.101)">p</div>
<div class="t v" style="left:159.89px;top:200px;font-size:10.9px;line-height:10.9px;transform:scaleX(1.220)">r</div>
<div class="t v" style="left:164.57px;top:200px;font-size:10.9px;line-height:10.9px;transform:scaleX(1.214)">i</div>
<div class="t v" style="left:167.72px;top:200px;font-size:10.9px;line-height:10.9px;transform:scaleX(1.024)">s</div>
<div class="t v" style="left:191.10px;top:201px;font-size:10.9px;line-height:10.9px;transform:scaleX(1.010)">S</div>
<div class="t v" style="left:198.45px;top:201px;font-size:10.9px;line-height:10.9px;transform:scaleX(1.000)">E</div>
<div class="t v" style="left:205.72px;top:201px;font-size:10.9px;line-height:10.9px;transform:scaleX(1.024)">K</div>
<div class="t v" style="left:213.90px;top:201px;font-size:10.9px;line-height:10.9px;transform:scaleX(1.220)">/</div>
<div class="t v" style="left:218.35px;top:201px;font-size:10.9px;line-height:10.9px;transform:scaleX(1.001)">M</div>
<div class="t v" style="left:227.79px;top:201px;font-size:10.9px;line-height:10.9px;transform:scaleX(1.032)">W</div>
<div class="t v" style="left:238.72px;top:201px;font-size:10.9px;line-height:10.9px;transform:scaleX(1.119)">h</div>
<div class="t n" style="left:316.06px;top:199.00px;font-size:11.0px;line-height:11.0px;transform:scaleX(1.1150)">320,9</div>
<div class="t n" style="left:396.76px;top:199.00px;font-size:11.0px;line-height:11.0px;transform:scaleX(1.1150)">328,0</div>
<div class="l" style="left:492px;top:199px;width:1px;height:12px;background:#ff9a4a"></div><div class="l" style="left:493px;top:199px;width:1px;height:12px;background:#ff4d9a"></div><svg class="a" style="left:487px;top:207px" width="12" height="8" viewBox="487 207 12 8"><path d="M490.1 210.29999999999998L493.0 213.49999999999997L495.9 210.29999999999998" stroke="#ff0000" stroke-width="1.1" fill="none"/><path d="M490.8 211.2L495.2 211.2L493.0 213.79999999999998Z" fill="#ff0000"/></svg>
<div class="l" style="left:572px;top:199px;width:1px;height:12px;background:#ff9a4a"></div><div class="l" style="left:573px;top:199px;width:1px;height:12px;background:#ff4d9a"></div><svg class="a" style="left:567px;top:207px" width="13" height="8" viewBox="567 207 13 8"><path d="M570.6 210.29999999999998L573.5 213.49999999999997L576.4 210.29999999999998" stroke="#ff0000" stroke-width="1.1" fill="none"/><path d="M571.3 211.2L575.7 211.2L573.5 213.79999999999998Z" fill="#ff0000"/></svg>
<div class="t v" style="left:7.10px;top:219px;font-size:10.9px;line-height:10.9px;transform:scaleX(1.000)">E</div>
<div class="t v" style="left:14.35px;top:219px;font-size:10.9px;line-height:10.9px;transform:scaleX(1.214)">l</div>
<div class="t v" style="left:17.73px;top:219px;font-size:10.9px;line-height:10.9px;transform:scaleX(1.220)">t</div>
<div class="t v" style="left:21.95px;top:219px;font-size:10.9px;line-height:10.9px;transform:scaleX(1.053)">e</div>
<div class="t v" style="left:28.67px;top:219px;font-size:10.9px;line-height:10.9px;transform:scaleX(1.220)">r</div>
<div class="t v" style="left:33.53px;top:219px;font-size:10.9px;line-height:10.9px;transform:scaleX(1.148)">m</div>
<div class="t v" style="left:44.28px;top:219px;font-size:10.9px;line-height:10.9px;transform:scaleX(1.214)">i</div>
<div class="t v" style="left:47.45px;top:219px;font-size:10.9px;line-height:10.9px;transform:scaleX(1.119)">n</div>
<div class="t v" style="left:58.52px;top:219px;font-size:10.9px;line-height:10.9px;transform:scaleX(1.008)">Å</div>
<div class="t v" style="left:66.21px;top:219px;font-size:10.9px;line-height:10.9px;transform:scaleX(1.220)">r</div>
<div class="t v" style="left:71.02px;top:219px;font-size:10.9px;line-height:10.9px;transform:scaleX(1.220)">-</div>
<div class="t v" style="left:75.81px;top:219px;font-size:10.9px;line-height:10.9px;transform:scaleX(1.125)">2</div>
<div class="t v" style="left:82.96px;top:219px;font-size:10.9px;line-height:10.9px;transform:scaleX(1.125)">0</div>
<div class="t v" style="left:90.11px;top:219px;font-size:10.9px;line-height:10.9px;transform:scaleX(1.125)">1</div>
<div class="t v" style="left:97.25px;top:219px;font-size:10.9px;line-height:10.9px;transform:scaleX(1.125)">5</div>
<div class="t v" style="left:103.43px;top:219px;font-size:10.9px;line-height:10.9px;transform:scaleX(1.220)">,</div>
<div class="t v" style="left:112.41px;top:219px;font-size:10.9px;line-height:10.9px;transform:scaleX(1.024)">s</div>
<div class="t v" style="left:118.28px;top:219px;font-size:10.9px;line-height:10.9px;transform:scaleX(1.170)">y</div>
<div class="t v" style="left:124.95px;top:219px;font-size:10.9px;line-height:10.9px;transform:scaleX(1.024)">s</div>
<div class="t v" style="left:131.03px;top:219px;font-size:10.9px;line-height:10.9px;transform:scaleX(1.220)">t</div>
<div class="t v" style="left:135.24px;top:219px;font-size:10.9px;line-height:10.9px;transform:scaleX(1.053)">e</div>
<div class="t v" style="left:142.03px;top:219px;font-size:10.9px;line-height:10.9px;transform:scaleX(1.148)">m</div>
<div class="t v" style="left:152.87px;top:219px;font-size:10.9px;line-height:10.9px;transform:scaleX(1.101)">p</div>
<div class="t v" style="left:159.89px;top:219px;font-size:10.9px;line-height:10.9px;transform:scaleX(1.220)">r</div>
<div class="t v" style="left:164.57px;top:219px;font-size:10.9px;line-height:10.9px;transform:scaleX(1.214)">i</div>
<div class="t v" style="left:167.72px;top:219px;font-size:10.9px;line-height:10.9px;transform:scaleX(1.024)">s</div>
<div class="t v" style="left:191.10px;top:219px;font-size:10.9px;line-height:10.9px;transform:scaleX(1.010)">S</div>
<div class="t v" style="left:198.45px;top:219px;font-size:10.9px;line-height:10.9px;transform:scaleX(1.000)">E</div>
<div class="t v" style="left:205.72px;top:219px;font-size:10.9px;line-height:10.9px;transform:scaleX(1.024)">K</div>
<div class="t v" style="left:213.90px;top:219px;font-size:10.9px;line-height:10.9px;transform:scaleX(1.220)">/</div>
<div class="t v" style="left:218.35px;top:219px;font-size:10.9px;line-height:10.9px;transform:scaleX(1.001)">M</div>
<div class="t v" style="left:227.79px;top:219px;font-size:10.9px;line-height:10.9px;transform:scaleX(1.032)">W</div>
<div class="t v" style="left:238.72px;top:219px;font-size:10.9px;line-height:10.9px;transform:scaleX(1.119)">h</div>
<div class="t n" style="left:316.06px;top:218.00px;font-size:11.0px;line-height:11.0px;transform:scaleX(1.1150)">309,2</div>
<div class="t n" style="left:397.21px;top:218.00px;font-size:11.0px;line-height:11.0px;transform:scaleX(1.1150)">311,3</div>
<svg class="a" style="left:482px;top:220px" width="21" height="11" viewBox="482 220 21 11"><path d="M483.8 225.5H500.7" stroke="#000" stroke-width="1.15" fill="none"/><path d="M497.2 222.4L501.2 225.5L497.2 228.6" stroke="#000" stroke-width="1.1" fill="none"/><path d="M498.9 224.0L501.5 225.5L498.9 227.0Z" fill="#000"/></svg>
<div class="l" style="left:572px;top:218px;width:1px;height:12px;background:#ff9a4a"></div><div class="l" style="left:573px;top:218px;width:1px;height:12px;background:#ff4d9a"></div><svg class="a" style="left:567px;top:226px" width="13" height="8" viewBox="567 226 13 8"><path d="M570.6 229.1L573.5 232.29999999999998L576.4 229.1" stroke="#ff0000" stroke-width="1.1" fill="none"/><path d="M571.3 230.0L575.7 230.0L573.5 232.6Z" fill="#ff0000"/></svg>
<div class="t v" style="left:7.10px;top:237px;font-size:10.9px;line-height:10.9px;transform:scaleX(1.000)">E</div>
<div class="t v" style="left:14.35px;top:237px;font-size:10.9px;line-height:10.9px;transform:scaleX(1.214)">l</div>
<div class="t v" style="left:17.73px;top:237px;font-size:10.9px;line-height:10.9px;transform:scaleX(1.220)">t</div>
<div class="t v" style="left:21.95px;top:237px;font-size:10.9px;line-height:10.9px;transform:scaleX(1.053)">e</div>
<div class="t v" style="left:28.67px;top:237px;font-size:10.9px;line-height:10.9px;transform:scaleX(1.220)">r</div>
<div class="t v" style="left:33.53px;top:237px;font-size:10.9px;line-height:10.9px;transform:scaleX(1.148)">m</div>
<div class="t v" style="left:44.28px;top:237px;font-size:10.9px;line-height:10.9px;transform:scaleX(1.214)">i</div>
<div class="t v" style="left:47.45px;top:237px;font-size:10.9px;line-height:10.9px;transform:scaleX(1.119)">n</div>
<div class="t v" style="left:58.52px;top:237px;font-size:10.9px;line-height:10.9px;transform:scaleX(1.008)">Å</div>
<div class="t v" style="left:66.21px;top:237px;font-size:10.9px;line-height:10.9px;transform:scaleX(1.220)">r</div>
<div class="t v" style="left:71.02px;top:237px;font-size:10.9px;line-height:10.9px;transform:scaleX(1.220)">-</div>
<div class="t v" style="left:75.81px;top:237px;font-size:10.9px;line-height:10.9px;transform:scaleX(1.125)">2</div>
<div class="t v" style="left:82.96px;top:237px;font-size:10.9px;line-height:10.9px;transform:scaleX(1.125)">0</div>
<div class="t v" style="left:90.11px;top:237px;font-size:10.9px;line-height:10.9px;transform:scaleX(1.125)">1</div>
<div class="t v" style="left:97.25px;top:237px;font-size:10.9px;line-height:10.9px;transform:scaleX(1.125)">6</div>
<div class="t v" style="left:103.43px;top:237px;font-size:10.9px;line-height:10.9px;transform:scaleX(1.220)">,</div>
<div class="t v" style="left:112.41px;top:237px;font-size:10.9px;line-height:10.9px;transform:scaleX(1.024)">s</div>
<div class="t v" style="left:118.28px;top:237px;font-size:10.9px;line-height:10.9px;transform:scaleX(1.170)">y</div>
<div class="t v" style="left:124.95px;top:237px;font-size:10.9px;line-height:10.9px;transform:scaleX(1.024)">s</div>
<div class="t v" style="left:131.03px;top:237px;font-size:10.9px;line-height:10.9px;transform:scaleX(1.220)">t</div>
<div class="t v" style="left:135.24px;top:237px;font-size:10.9px;line-height:10.9px;transform:scaleX(1.053)">e</div>
<div class="t v" style="left:142.03px;top:237px;font-size:10.9px;line-height:10.9px;transform:scaleX(1.148)">m</div>
<div class="t v" style="left:152.87px;top:237px;font-size:10.9px;line-height:10.9px;transform:scaleX(1.101)">p</div>
<div class="t v" style="left:159.89px;top:237px;font-size:10.9px;line-height:10.9px;transform:scaleX(1.220)">r</div>
<div class="t v" style="left:164.57px;top:237px;font-size:10.9px;line-height:10.9px;transform:scaleX(1.214)">i</div>
<div class="t v" style="left:167.72px;top:237px;font-size:10.9px;line-height:10.9px;transform:scaleX(1.024)">s</div>
<div class="t v" style="left:191.10px;top:239px;font-size:10.9px;line-height:10.9px;transform:scaleX(1.010)">S</div>
<div class="t v" style="left:198.45px;top:239px;font-size:10.9px;line-height:10.9px;transform:scaleX(1.000)">E</div>
<div class="t v" style="left:205.72px;top:239px;font-size:10.9px;line-height:10.9px;transform:scaleX(1.024)">K</div>
<div class="t v" style="left:213.90px;top:239px;font-size:10.9px;line-height:10.9px;transform:scaleX(1.220)">/</div>
<div class="t v" style="left:218.35px;top:239px;font-size:10.9px;line-height:10.9px;transform:scaleX(1.001)">M</div>
<div class="t v" style="left:227.79px;top:239px;font-size:10.9px;line-height:10.9px;transform:scaleX(1.032)">W</div>
<div class="t v" style="left:238.72px;top:239px;font-size:10.9px;line-height:10.9px;transform:scaleX(1.119)">h</div>
<div class="t n" style="left:316.06px;top:237.00px;font-size:11.0px;line-height:11.0px;transform:scaleX(1.1150)">303,1</div>
<div class="t n" style="left:396.76px;top:237.00px;font-size:11.0px;line-height:11.0px;transform:scaleX(1.1150)">299,5</div>
<svg class="a" style="left:482px;top:239px" width="21" height="11" viewBox="482 239 21 11"><path d="M483.8 244.5H500.7" stroke="#000" stroke-width="1.15" fill="none"/><path d="M497.2 241.4L501.2 244.5L497.2 247.6" stroke="#000" stroke-width="1.1" fill="none"/><path d="M498.9 243.0L501.5 244.5L498.9 246.0Z" fill="#000"/></svg>
<svg class="a" style="left:563px;top:239px" width="20" height="11" viewBox="563 239 20 11"><path d="M564.3 244.5H581.2" stroke="#000" stroke-width="1.15" fill="none"/><path d="M577.7 241.4L581.7 244.5L577.7 247.6" stroke="#000" stroke-width="1.1" fill="none"/><path d="M579.4 243.0L582.0 244.5L579.4 246.0Z" fill="#000"/></svg>
<div class="t v" style="left:6.20px;top:277px;font-size:10.9px;line-height:10.9px;transform:scaleX(1.000)">T</div>
<div class="t v" style="left:13.20px;top:277px;font-size:10.9px;line-height:10.9px;transform:scaleX(1.170)">y</div>
<div class="t v" style="left:19.98px;top:277px;font-size:10.9px;line-height:10.9px;transform:scaleX(1.024)">s</div>
<div class="t v" style="left:25.97px;top:277px;font-size:10.9px;line-height:10.9px;transform:scaleX(1.170)">k</div>
<div class="t v" style="left:32.66px;top:277px;font-size:10.9px;line-height:10.9px;transform:scaleX(1.214)">l</div>
<div class="t v" style="left:35.92px;top:277px;font-size:10.9px;line-height:10.9px;transform:scaleX(1.063)">a</div>
<div class="t v" style="left:42.81px;top:277px;font-size:10.9px;line-height:10.9px;transform:scaleX(1.119)">n</div>
<div class="t v" style="left:50.05px;top:277px;font-size:10.9px;line-height:10.9px;transform:scaleX(1.101)">d</div>
<div class="t v" style="left:61.22px;top:277px;font-size:10.9px;line-height:10.9px;transform:scaleX(1.011)">B</div>
<div class="t v" style="left:69.04px;top:277px;font-size:10.9px;line-height:10.9px;transform:scaleX(1.063)">a</div>
<div class="t v" style="left:75.89px;top:277px;font-size:10.9px;line-height:10.9px;transform:scaleX(1.024)">s</div>
<div class="t v" style="left:81.88px;top:277px;font-size:10.9px;line-height:10.9px;transform:scaleX(1.053)">e</div>
<div class="t v" style="left:92.74px;top:277px;font-size:10.9px;line-height:10.9px;transform:scaleX(1.008)">Å</div>
<div class="t v" style="left:100.55px;top:277px;font-size:10.9px;line-height:10.9px;transform:scaleX(1.220)">r</div>
<div class="t v" style="left:105.45px;top:277px;font-size:10.9px;line-height:10.9px;transform:scaleX(1.220)">-</div>
<div class="t v" style="left:110.35px;top:277px;font-size:10.9px;line-height:10.9px;transform:scaleX(1.125)">2</div>
<div class="t v" style="left:117.63px;top:277px;font-size:10.9px;line-height:10.9px;transform:scaleX(1.125)">0</div>
<div class="t v" style="left:124.91px;top:277px;font-size:10.9px;line-height:10.9px;transform:scaleX(1.125)">1</div>
<div class="t v" style="left:132.18px;top:277px;font-size:10.9px;line-height:10.9px;transform:scaleX(1.125)">4</div>
<div class="t v" style="left:191.10px;top:278px;font-size:10.9px;line-height:10.9px;transform:scaleX(1.000)">E</div>
<div class="t v" style="left:198.25px;top:278px;font-size:10.9px;line-height:10.9px;transform:scaleX(1.000)">U</div>
<div class="t v" style="left:206.05px;top:278px;font-size:10.9px;line-height:10.9px;transform:scaleX(1.000)">R</div>
<div class="t v" style="left:214.33px;top:278px;font-size:10.9px;line-height:10.9px;transform:scaleX(1.220)">/</div>
<div class="t v" style="left:218.67px;top:278px;font-size:10.9px;line-height:10.9px;transform:scaleX(1.001)">M</div>
<div class="t v" style="left:227.94px;top:278px;font-size:10.9px;line-height:10.9px;transform:scaleX(1.032)">W</div>
<div class="t v" style="left:238.72px;top:278px;font-size:10.9px;line-height:10.9px;transform:scaleX(1.119)">h</div>
<div class="t n" style="left:319.47px;top:277.00px;font-size:11.0px;line-height:11.0px;transform:scaleX(1.1150)">37,6</div>
<div class="t n" style="left:400.17px;top:277.00px;font-size:11.0px;line-height:11.0px;transform:scaleX(1.1150)">38,0</div>
<svg class="a" style="left:482px;top:278px" width="21" height="11" viewBox="482 278 21 11"><path d="M483.8 283.5H500.7" stroke="#000" stroke-width="1.15" fill="none"/><path d="M497.2 280.4L501.2 283.5L497.2 286.6" stroke="#000" stroke-width="1.1" fill="none"/><path d="M498.9 282.0L501.5 283.5L498.9 285.0Z" fill="#000"/></svg>
<div class="t v" style="left:6.80px;top:296px;font-size:10.9px;line-height:10.9px;transform:scaleX(1.024)">K</div>
<div class="t v" style="left:14.65px;top:296px;font-size:10.9px;line-height:10.9px;transform:scaleX(1.073)">o</div>
<div class="t v" style="left:21.42px;top:296px;font-size:10.9px;line-height:10.9px;transform:scaleX(1.214)">l</div>
<div class="t v" style="left:28.64px;top:296px;font-size:10.9px;line-height:10.9px;transform:scaleX(1.008)">A</div>
<div class="t v" style="left:35.98px;top:296px;font-size:10.9px;line-height:10.9px;transform:scaleX(1.000)">P</div>
<div class="t v" style="left:43.58px;top:296px;font-size:10.9px;line-height:10.9px;transform:scaleX(1.220)">I</div>
<div class="t v" style="left:48.01px;top:296px;font-size:10.9px;line-height:10.9px;transform:scaleX(1.125)">2</div>
<div class="t v" style="left:59.21px;top:296px;font-size:10.9px;line-height:10.9px;transform:scaleX(1.008)">Å</div>
<div class="t v" style="left:66.96px;top:296px;font-size:10.9px;line-height:10.9px;transform:scaleX(1.220)">r</div>
<div class="t v" style="left:71.81px;top:296px;font-size:10.9px;line-height:10.9px;transform:scaleX(1.220)">-</div>
<div class="t v" style="left:76.66px;top:296px;font-size:10.9px;line-height:10.9px;transform:scaleX(1.125)">2</div>
<div class="t v" style="left:83.87px;top:296px;font-size:10.9px;line-height:10.9px;transform:scaleX(1.125)">0</div>
<div class="t v" style="left:91.07px;top:296px;font-size:10.9px;line-height:10.9px;transform:scaleX(1.125)">1</div>
<div class="t v" style="left:98.28px;top:296px;font-size:10.9px;line-height:10.9px;transform:scaleX(1.125)">4</div>
<div class="t v" style="left:191.10px;top:296px;font-size:10.9px;line-height:10.9px;transform:scaleX(1.000)">U</div>
<div class="t v" style="left:199.35px;top:296px;font-size:10.9px;line-height:10.9px;transform:scaleX(1.010)">S</div>
<div class="t v" style="left:207.08px;top:296px;font-size:10.9px;line-height:10.9px;transform:scaleX(1.048)">D</div>
<div class="t v" style="left:216.16px;top:296px;font-size:10.9px;line-height:10.9px;transform:scaleX(1.220)">/</div>
<div class="t v" style="left:220.85px;top:296px;font-size:10.9px;line-height:10.9px;transform:scaleX(1.220)">t</div>
<div class="t v" style="left:225.08px;top:296px;font-size:10.9px;line-height:10.9px;transform:scaleX(1.073)">o</div>
<div class="t v" style="left:231.92px;top:296px;font-size:10.9px;line-height:10.9px;transform:scaleX(1.119)">n</div>
<div class="t n" style="left:319.47px;top:295.00px;font-size:11.0px;line-height:11.0px;transform:scaleX(1.1150)">83,3</div>
<div class="t n" style="left:400.17px;top:295.00px;font-size:11.0px;line-height:11.0px;transform:scaleX(1.1150)">84,5</div>
<div class="l" style="left:492px;top:295px;width:1px;height:12px;background:#ff9a4a"></div><div class="l" style="left:493px;top:295px;width:1px;height:12px;background:#ff4d9a"></div><svg class="a" style="left:487px;top:303px" width="12" height="8" viewBox="487 303 12 8"><path d="M490.1 306.09999999999997L493.0 309.29999999999995L495.9 306.09999999999997" stroke="#ff0000" stroke-width="1.1" fill="none"/><path d="M490.8 306.99999999999994L495.2 306.99999999999994L493.0 309.59999999999997Z" fill="#ff0000"/></svg>
<div class="t v" style="left:6.80px;top:315px;font-size:10.9px;line-height:10.9px;transform:scaleX(1.000)">U</div>
<div class="t v" style="left:15.22px;top:315px;font-size:10.9px;line-height:10.9px;transform:scaleX(1.220)">t</div>
<div class="t v" style="left:19.42px;top:315px;font-size:10.9px;line-height:10.9px;transform:scaleX(1.024)">s</div>
<div class="t v" style="left:25.21px;top:315px;font-size:10.9px;line-height:10.9px;transform:scaleX(1.214)">l</div>
<div class="t v" style="left:28.38px;top:315px;font-size:10.9px;line-height:10.9px;transform:scaleX(1.063)">ä</div>
<div class="t v" style="left:35.15px;top:315px;font-size:10.9px;line-height:10.9px;transform:scaleX(1.101)">p</div>
<div class="t v" style="left:42.15px;top:315px;font-size:10.9px;line-height:10.9px;transform:scaleX(1.101)">p</div>
<div class="t v" style="left:49.13px;top:315px;font-size:10.9px;line-height:10.9px;transform:scaleX(1.024)">s</div>
<div class="t v" style="left:55.03px;top:315px;font-size:10.9px;line-height:10.9px;transform:scaleX(1.220)">r</div>
<div class="t v" style="left:59.80px;top:315px;font-size:10.9px;line-height:10.9px;transform:scaleX(1.063)">ä</div>
<div class="t v" style="left:66.77px;top:315px;font-size:10.9px;line-height:10.9px;transform:scaleX(1.220)">t</div>
<div class="t v" style="left:71.20px;top:315px;font-size:10.9px;line-height:10.9px;transform:scaleX(1.220)">t</div>
<div class="t v" style="left:75.42px;top:315px;font-size:10.9px;line-height:10.9px;transform:scaleX(1.053)">e</div>
<div class="t v" style="left:82.14px;top:315px;font-size:10.9px;line-height:10.9px;transform:scaleX(1.220)">r</div>
<div class="t v" style="left:90.91px;top:315px;font-size:10.9px;line-height:10.9px;transform:scaleX(1.048)">D</div>
<div class="t v" style="left:99.52px;top:315px;font-size:10.9px;line-height:10.9px;transform:scaleX(1.053)">e</div>
<div class="t v" style="left:106.19px;top:315px;font-size:10.9px;line-height:10.9px;transform:scaleX(1.024)">c</div>
<div class="t v" style="left:116.03px;top:315px;font-size:10.9px;line-height:10.9px;transform:scaleX(1.125)">2</div>
<div class="t v" style="left:123.18px;top:315px;font-size:10.9px;line-height:10.9px;transform:scaleX(1.125)">0</div>
<div class="t v" style="left:130.33px;top:315px;font-size:10.9px;line-height:10.9px;transform:scaleX(1.125)">1</div>
<div class="t v" style="left:137.48px;top:315px;font-size:10.9px;line-height:10.9px;transform:scaleX(1.125)">3</div>
<div class="t v" style="left:191.10px;top:315px;font-size:10.9px;line-height:10.9px;transform:scaleX(1.000)">E</div>
<div class="t v" style="left:198.26px;top:315px;font-size:10.9px;line-height:10.9px;transform:scaleX(1.000)">U</div>
<div class="t v" style="left:206.07px;top:315px;font-size:10.9px;line-height:10.9px;transform:scaleX(1.000)">R</div>
<div class="t v" style="left:214.36px;top:315px;font-size:10.9px;line-height:10.9px;transform:scaleX(1.220)">/</div>
<div class="t v" style="left:218.92px;top:315px;font-size:10.9px;line-height:10.9px;transform:scaleX(1.220)">t</div>
<div class="t v" style="left:222.98px;top:315px;font-size:10.9px;line-height:10.9px;transform:scaleX(1.073)">o</div>
<div class="t v" style="left:229.62px;top:315px;font-size:10.9px;line-height:10.9px;transform:scaleX(1.119)">n</div>
<div class="t n" style="left:322.88px;top:314.00px;font-size:11.0px;line-height:11.0px;transform:scaleX(1.1150)">4,8</div>
<div class="t n" style="left:403.58px;top:314.00px;font-size:11.0px;line-height:11.0px;transform:scaleX(1.1150)">4,6</div>
<div class="l" style="left:492px;top:316px;width:1px;height:13px;background:#f2dc8a"></div><div class="l" style="left:493px;top:316px;width:1px;height:13px;background:#86d4e2"></div><svg class="a" style="left:487px;top:313px" width="12" height="7" viewBox="487 313 12 7"><path d="M490.1 317.5L493.0 314.3L495.9 317.5" stroke="#4caf50" stroke-width="1.1" fill="none"/><path d="M490.8 316.6L495.2 316.6L493.0 314.0Z" fill="#4caf50"/></svg>
<div class="t v" style="left:6.20px;top:334px;font-size:10.9px;line-height:10.9px;transform:scaleX(1.000)">O</div>
<div class="t v" style="left:15.01px;top:334px;font-size:10.9px;line-height:10.9px;transform:scaleX(1.214)">l</div>
<div class="t v" style="left:18.46px;top:334px;font-size:10.9px;line-height:10.9px;transform:scaleX(1.220)">j</div>
<div class="t v" style="left:22.02px;top:334px;font-size:10.9px;line-height:10.9px;transform:scaleX(1.063)">a</div>
<div class="t v" style="left:32.90px;top:334px;font-size:10.9px;line-height:10.9px;transform:scaleX(1.011)">B</div>
<div class="t v" style="left:40.70px;top:334px;font-size:10.9px;line-height:10.9px;transform:scaleX(1.220)">r</div>
<div class="t v" style="left:45.55px;top:334px;font-size:10.9px;line-height:10.9px;transform:scaleX(1.053)">e</div>
<div class="t v" style="left:52.35px;top:334px;font-size:10.9px;line-height:10.9px;transform:scaleX(1.119)">n</div>
<div class="t v" style="left:59.74px;top:334px;font-size:10.9px;line-height:10.9px;transform:scaleX(1.220)">t</div>
<div class="t v" style="left:63.05px;top:334px;font-size:10.9px;line-height:10.9px;transform:scaleX(1.220)">,</div>
<div class="t v" style="left:72.19px;top:334px;font-size:10.9px;line-height:10.9px;transform:scaleX(1.125)">1</div>
<div class="t v" style="left:83.55px;top:334px;font-size:10.9px;line-height:10.9px;transform:scaleX(1.148)">m</div>
<div class="t v" style="left:94.51px;top:334px;font-size:10.9px;line-height:10.9px;transform:scaleX(1.063)">å</div>
<div class="t v" style="left:101.37px;top:334px;font-size:10.9px;line-height:10.9px;transform:scaleX(1.119)">n</div>
<div class="t v" style="left:108.57px;top:334px;font-size:10.9px;line-height:10.9px;transform:scaleX(1.063)">a</div>
<div class="t v" style="left:115.43px;top:334px;font-size:10.9px;line-height:10.9px;transform:scaleX(1.101)">d</div>
<div class="t v" style="left:191.10px;top:335px;font-size:10.9px;line-height:10.9px;transform:scaleX(1.000)">U</div>
<div class="t v" style="left:199.52px;top:335px;font-size:10.9px;line-height:10.9px;transform:scaleX(1.010)">S</div>
<div class="t v" style="left:207.42px;top:335px;font-size:10.9px;line-height:10.9px;transform:scaleX(1.048)">D</div>
<div class="t v" style="left:216.66px;top:335px;font-size:10.9px;line-height:10.9px;transform:scaleX(1.220)">/</div>
<div class="t v" style="left:221.20px;top:335px;font-size:10.9px;line-height:10.9px;transform:scaleX(1.220)">f</div>
<div class="t v" style="left:225.30px;top:335px;font-size:10.9px;line-height:10.9px;transform:scaleX(1.063)">a</div>
<div class="t v" style="left:232.40px;top:335px;font-size:10.9px;line-height:10.9px;transform:scaleX(1.220)">t</div>
<div class="t n" style="left:316.06px;top:333.00px;font-size:11.0px;line-height:11.0px;transform:scaleX(1.1150)">109,1</div>
<div class="t n" style="left:396.76px;top:333.00px;font-size:11.0px;line-height:11.0px;transform:scaleX(1.1150)">109,6</div>
<div class="l" style="left:492px;top:333px;width:1px;height:12px;background:#ff9a4a"></div><div class="l" style="left:493px;top:333px;width:1px;height:12px;background:#ff4d9a"></div><svg class="a" style="left:487px;top:341px" width="12" height="8" viewBox="487 341 12 8"><path d="M490.1 344.3L493.0 347.5L495.9 344.3" stroke="#ff0000" stroke-width="1.1" fill="none"/><path d="M490.8 345.2L495.2 345.2L493.0 347.8Z" fill="#ff0000"/></svg>
<div class="t v" style="left:6.20px;top:353px;font-size:10.9px;line-height:10.9px;transform:scaleX(1.000)">G</div>
<div class="t v" style="left:14.89px;top:353px;font-size:10.9px;line-height:10.9px;transform:scaleX(1.063)">a</div>
<div class="t v" style="left:21.58px;top:353px;font-size:10.9px;line-height:10.9px;transform:scaleX(1.024)">s</div>
<div class="t v" style="left:27.41px;top:353px;font-size:10.9px;line-height:10.9px;transform:scaleX(1.101)">p</div>
<div class="t v" style="left:34.35px;top:353px;font-size:10.9px;line-height:10.9px;transform:scaleX(1.073)">o</div>
<div class="t v" style="left:41.04px;top:353px;font-size:10.9px;line-height:10.9px;transform:scaleX(1.214)">i</div>
<div class="t v" style="left:44.18px;top:353px;font-size:10.9px;line-height:10.9px;transform:scaleX(1.119)">n</div>
<div class="t v" style="left:51.44px;top:353px;font-size:10.9px;line-height:10.9px;transform:scaleX(1.220)">t</div>
<div class="t v" style="left:59.57px;top:353px;font-size:10.9px;line-height:10.9px;transform:scaleX(1.017)">N</div>
<div class="t v" style="left:67.86px;top:353px;font-size:10.9px;line-height:10.9px;transform:scaleX(1.073)">o</div>
<div class="t v" style="left:74.66px;top:353px;font-size:10.9px;line-height:10.9px;transform:scaleX(1.220)">r</div>
<div class="t v" style="left:79.39px;top:353px;font-size:10.9px;line-height:10.9px;transform:scaleX(1.101)">d</div>
<div class="t v" style="left:86.26px;top:353px;font-size:10.9px;line-height:10.9px;transform:scaleX(1.214)">i</div>
<div class="t v" style="left:89.37px;top:353px;font-size:10.9px;line-height:10.9px;transform:scaleX(1.024)">c</div>
<div class="t v" style="left:99.72px;top:353px;font-size:10.9px;line-height:10.9px;transform:scaleX(1.220)">(</div>
<div class="t v" style="left:104.99px;top:353px;font-size:10.9px;line-height:10.9px;transform:scaleX(1.220)">f</div>
<div class="t v" style="left:108.93px;top:353px;font-size:10.9px;line-height:10.9px;transform:scaleX(1.101)">d</div>
<div class="t v" style="left:119.82px;top:353px;font-size:10.9px;line-height:10.9px;transform:scaleX(1.017)">N</div>
<div class="t v" style="left:127.73px;top:353px;font-size:10.9px;line-height:10.9px;transform:scaleX(1.000)">P</div>
<div class="t v" style="left:135.47px;top:353px;font-size:10.9px;line-height:10.9px;transform:scaleX(1.220)">)</div>
<div class="t v" style="left:191.10px;top:354px;font-size:10.9px;line-height:10.9px;transform:scaleX(1.000)">E</div>
<div class="t v" style="left:198.25px;top:354px;font-size:10.9px;line-height:10.9px;transform:scaleX(1.000)">U</div>
<div class="t v" style="left:206.05px;top:354px;font-size:10.9px;line-height:10.9px;transform:scaleX(1.000)">R</div>
<div class="t v" style="left:214.33px;top:354px;font-size:10.9px;line-height:10.9px;transform:scaleX(1.220)">/</div>
<div class="t v" style="left:218.67px;top:354px;font-size:10.9px;line-height:10.9px;transform:scaleX(1.001)">M</div>
<div class="t v" style="left:227.94px;top:354px;font-size:10.9px;line-height:10.9px;transform:scaleX(1.032)">W</div>
<div class="t v" style="left:238.72px;top:354px;font-size:10.9px;line-height:10.9px;transform:scaleX(1.119)">h</div>
<div class="t n" style="left:319.47px;top:352.00px;font-size:11.0px;line-height:11.0px;transform:scaleX(1.1150)">25,9</div>
<div class="t n" style="left:400.17px;top:352.00px;font-size:11.0px;line-height:11.0px;transform:scaleX(1.1150)">26,1</div>
<svg class="a" style="left:482px;top:354px" width="21" height="11" viewBox="482 354 21 11"><path d="M483.8 359.5H500.7" stroke="#000" stroke-width="1.15" fill="none"/><path d="M497.2 356.4L501.2 359.5L497.2 362.6" stroke="#000" stroke-width="1.1" fill="none"/><path d="M498.9 358.0L501.5 359.5L498.9 361.0Z" fill="#000"/></svg>
<div class="t v" style="left:6.20px;top:372px;font-size:10.9px;line-height:10.9px;transform:scaleX(1.008)">V</div>
<div class="t v" style="left:13.95px;top:372px;font-size:10.9px;line-height:10.9px;transform:scaleX(1.063)">a</div>
<div class="t v" style="left:20.68px;top:372px;font-size:10.9px;line-height:10.9px;transform:scaleX(1.214)">l</div>
<div class="t v" style="left:23.92px;top:372px;font-size:10.9px;line-height:10.9px;transform:scaleX(1.119)">u</div>
<div class="t v" style="left:31.30px;top:372px;font-size:10.9px;line-height:10.9px;transform:scaleX(1.220)">t</div>
<div class="t v" style="left:35.59px;top:372px;font-size:10.9px;line-height:10.9px;transform:scaleX(1.063)">a</div>
<div class="t v" style="left:42.43px;top:372px;font-size:10.9px;line-height:10.9px;transform:scaleX(1.170)">k</div>
<div class="t v" style="left:49.21px;top:372px;font-size:10.9px;line-height:10.9px;transform:scaleX(1.119)">u</div>
<div class="t v" style="left:56.41px;top:372px;font-size:10.9px;line-height:10.9px;transform:scaleX(1.220)">r</div>
<div class="t v" style="left:61.22px;top:372px;font-size:10.9px;line-height:10.9px;transform:scaleX(1.024)">s</div>
<div class="t v" style="left:191.10px;top:373px;font-size:10.9px;line-height:10.9px;transform:scaleX(1.000)">E</div>
<div class="t v" style="left:198.34px;top:373px;font-size:10.9px;line-height:10.9px;transform:scaleX(1.000)">U</div>
<div class="t v" style="left:206.24px;top:373px;font-size:10.9px;line-height:10.9px;transform:scaleX(1.000)">R</div>
<div class="t v" style="left:214.60px;top:373px;font-size:10.9px;line-height:10.9px;transform:scaleX(1.220)">/</div>
<div class="t v" style="left:219.00px;top:373px;font-size:10.9px;line-height:10.9px;transform:scaleX(1.010)">S</div>
<div class="t v" style="left:226.31px;top:373px;font-size:10.9px;line-height:10.9px;transform:scaleX(1.000)">E</div>
<div class="t v" style="left:233.55px;top:373px;font-size:10.9px;line-height:10.9px;transform:scaleX(1.024)">K</div>
<div class="t n" style="left:319.47px;top:371.00px;font-size:11.0px;line-height:11.0px;transform:scaleX(1.1150)">8,73</div>
<div class="t n" style="left:400.17px;top:371.00px;font-size:11.0px;line-height:11.0px;transform:scaleX(1.1150)">8,78</div>
<svg class="a" style="left:482px;top:373px" width="21" height="11" viewBox="482 373 21 11"><path d="M483.8 378.5H500.7" stroke="#000" stroke-width="1.15" fill="none"/><path d="M497.2 375.4L501.2 378.5L497.2 381.6" stroke="#000" stroke-width="1.1" fill="none"/><path d="M498.9 377.0L501.5 378.5L498.9 380.0Z" fill="#000"/></svg>
<div class="t v" style="left:6.80px;top:391px;font-size:10.9px;line-height:10.9px;transform:scaleX(1.017)">N</div>
<div class="t v" style="left:15.29px;top:391px;font-size:10.9px;line-height:10.9px;transform:scaleX(1.073)">o</div>
<div class="t v" style="left:22.24px;top:391px;font-size:10.9px;line-height:10.9px;transform:scaleX(1.220)">r</div>
<div class="t v" style="left:27.11px;top:391px;font-size:10.9px;line-height:10.9px;transform:scaleX(1.101)">d</div>
<div class="t v" style="left:34.11px;top:391px;font-size:10.9px;line-height:10.9px;transform:scaleX(1.214)">i</div>
<div class="t v" style="left:37.34px;top:391px;font-size:10.9px;line-height:10.9px;transform:scaleX(1.024)">s</div>
<div class="t v" style="left:43.32px;top:391px;font-size:10.9px;line-height:10.9px;transform:scaleX(1.170)">k</div>
<div class="t v" style="left:50.13px;top:391px;font-size:10.9px;line-height:10.9px;transform:scaleX(1.063)">a</div>
<div class="t v" style="left:61.15px;top:391px;font-size:10.9px;line-height:10.9px;transform:scaleX(1.148)">m</div>
<div class="t v" style="left:72.14px;top:391px;font-size:10.9px;line-height:10.9px;transform:scaleX(1.063)">a</div>
<div class="t v" style="left:79.02px;top:391px;font-size:10.9px;line-height:10.9px;transform:scaleX(1.101)">g</div>
<div class="t v" style="left:86.14px;top:391px;font-size:10.9px;line-height:10.9px;transform:scaleX(1.063)">a</div>
<div class="t v" style="left:92.99px;top:391px;font-size:10.9px;line-height:10.9px;transform:scaleX(1.024)">s</div>
<div class="t v" style="left:98.86px;top:391px;font-size:10.9px;line-height:10.9px;transform:scaleX(1.214)">i</div>
<div class="t v" style="left:102.12px;top:391px;font-size:10.9px;line-height:10.9px;transform:scaleX(1.119)">n</div>
<div class="t v" style="left:109.31px;top:391px;font-size:10.9px;line-height:10.9px;transform:scaleX(1.024)">s</div>
<div class="t v" style="left:115.31px;top:391px;font-size:10.9px;line-height:10.9px;transform:scaleX(1.119)">n</div>
<div class="t v" style="left:122.42px;top:391px;font-size:10.9px;line-height:10.9px;transform:scaleX(1.214)">i</div>
<div class="t v" style="left:125.67px;top:391px;font-size:10.9px;line-height:10.9px;transform:scaleX(1.170)">v</div>
<div class="t v" style="left:132.48px;top:391px;font-size:10.9px;line-height:10.9px;transform:scaleX(1.063)">å</div>
<div class="t v" style="left:139.35px;top:391px;font-size:10.9px;line-height:10.9px;transform:scaleX(1.053)">e</div>
<div class="t v" style="left:146.17px;top:391px;font-size:10.9px;line-height:10.9px;transform:scaleX(1.220)">r</div>
<div class="t v" style="left:191.10px;top:391px;font-size:10.9px;line-height:10.9px;transform:scaleX(1.195)">%</div>
<div class="t v" style="left:215.32px;top:391px;font-size:10.9px;line-height:10.9px;transform:scaleX(1.220)">(</div>
<div class="t v" style="left:220.59px;top:391px;font-size:10.9px;line-height:10.9px;transform:scaleX(1.119)">n</div>
<div class="t v" style="left:227.60px;top:391px;font-size:10.9px;line-height:10.9px;transform:scaleX(1.073)">o</div>
<div class="t v" style="left:234.38px;top:391px;font-size:10.9px;line-height:10.9px;transform:scaleX(1.220)">r</div>
<div class="t v" style="left:239.15px;top:391px;font-size:10.9px;line-height:10.9px;transform:scaleX(1.148)">m</div>
<div class="t v" style="left:249.87px;top:391px;font-size:10.9px;line-height:10.9px;transform:scaleX(1.063)">a</div>
<div class="t v" style="left:256.49px;top:391px;font-size:10.9px;line-height:10.9px;transform:scaleX(1.214)">l</div>
<div class="t v" style="left:259.82px;top:391px;font-size:10.9px;line-height:10.9px;transform:scaleX(1.220)">t</div>
<div class="t v" style="left:264.57px;top:391px;font-size:10.9px;line-height:10.9px;transform:scaleX(1.220)">)</div>
<div class="t n" style="left:304.90px;top:390.00px;font-size:11.0px;line-height:11.0px;transform:scaleX(1.0932)">72,6</div>
<div class="t n" style="left:334.50px;top:390.00px;font-size:11.0px;line-height:11.0px;transform:scaleX(1.1137)">(84,9)</div>
<div class="t n" style="left:385.70px;top:390.00px;font-size:11.0px;line-height:11.0px;transform:scaleX(1.0605)">73,6</div>
<div class="t n" style="left:414.50px;top:390.00px;font-size:11.0px;line-height:11.0px;transform:scaleX(1.1311)">(85,6)</div>
<div class="l" style="left:492px;top:389px;width:1px;height:13px;background:#ff9a4a"></div><div class="l" style="left:493px;top:389px;width:1px;height:13px;background:#ff4d9a"></div><svg class="a" style="left:487px;top:398px" width="12" height="7" viewBox="487 398 12 7"><path d="M490.1 400.5L493.0 403.7L495.9 400.5" stroke="#ff0000" stroke-width="1.1" fill="none"/><path d="M490.8 401.4L495.2 401.4L493.0 404.0Z" fill="#ff0000"/></svg>
<div class="l" style="left:572px;top:389px;width:1px;height:13px;background:#ff9a4a"></div><div class="l" style="left:573px;top:389px;width:1px;height:13px;background:#ff4d9a"></div><svg class="a" style="left:567px;top:398px" width="13" height="7" viewBox="567 398 13 7"><path d="M570.6 400.5L573.5 403.7L576.4 400.5" stroke="#ff0000" stroke-width="1.1" fill="none"/><path d="M571.3 401.4L575.7 401.4L573.5 404.0Z" fill="#ff0000"/></svg>
<div class="t v" style="left:6.85px;top:410px;font-size:10.9px;line-height:10.9px;transform:scaleX(1.024)">H</div>
<div class="t v" style="left:15.25px;top:410px;font-size:10.9px;line-height:10.9px;transform:scaleX(1.170)">y</div>
<div class="t v" style="left:21.94px;top:410px;font-size:10.9px;line-height:10.9px;transform:scaleX(1.101)">d</div>
<div class="t v" style="left:28.95px;top:410px;font-size:10.9px;line-height:10.9px;transform:scaleX(1.220)">r</div>
<div class="t v" style="left:33.72px;top:410px;font-size:10.9px;line-height:10.9px;transform:scaleX(1.073)">o</div>
<div class="t v" style="left:40.44px;top:410px;font-size:10.9px;line-height:10.9px;transform:scaleX(1.214)">l</div>
<div class="t v" style="left:43.61px;top:410px;font-size:10.9px;line-height:10.9px;transform:scaleX(1.073)">o</div>
<div class="t v" style="left:50.42px;top:410px;font-size:10.9px;line-height:10.9px;transform:scaleX(1.101)">g</div>
<div class="t v" style="left:57.33px;top:410px;font-size:10.9px;line-height:10.9px;transform:scaleX(1.214)">i</div>
<div class="t v" style="left:60.47px;top:410px;font-size:10.9px;line-height:10.9px;transform:scaleX(1.024)">s</div>
<div class="t v" style="left:66.34px;top:410px;font-size:10.9px;line-height:10.9px;transform:scaleX(1.170)">k</div>
<div class="t v" style="left:76.97px;top:410px;font-size:10.9px;line-height:10.9px;transform:scaleX(1.101)">b</div>
<div class="t v" style="left:83.96px;top:410px;font-size:10.9px;line-height:10.9px;transform:scaleX(1.063)">a</div>
<div class="t v" style="left:90.63px;top:410px;font-size:10.9px;line-height:10.9px;transform:scaleX(1.214)">l</div>
<div class="t v" style="left:97.77px;top:410px;font-size:10.9px;line-height:10.9px;transform:scaleX(1.017)">N</div>
<div class="t v" style="left:106.12px;top:410px;font-size:10.9px;line-height:10.9px;transform:scaleX(1.073)">o</div>
<div class="t v" style="left:112.96px;top:410px;font-size:10.9px;line-height:10.9px;transform:scaleX(1.220)">r</div>
<div class="t v" style="left:117.73px;top:410px;font-size:10.9px;line-height:10.9px;transform:scaleX(1.101)">d</div>
<div class="t v" style="left:124.71px;top:410px;font-size:10.9px;line-height:10.9px;transform:scaleX(1.053)">e</div>
<div class="t v" style="left:131.41px;top:410px;font-size:10.9px;line-height:10.9px;transform:scaleX(1.119)">n</div>
<div class="t v" style="left:143.05px;top:410px;font-size:10.9px;line-height:10.9px;transform:scaleX(1.220)">(</div>
<div class="t v" style="left:148.39px;top:410px;font-size:10.9px;line-height:10.9px;transform:scaleX(1.101)">p</div>
<div class="t v" style="left:155.40px;top:410px;font-size:10.9px;line-height:10.9px;transform:scaleX(1.220)">r</div>
<div class="t v" style="left:160.17px;top:410px;font-size:10.9px;line-height:10.9px;transform:scaleX(1.073)">o</div>
<div class="t v" style="left:166.98px;top:410px;font-size:10.9px;line-height:10.9px;transform:scaleX(1.101)">g</div>
<div class="t v" style="left:174.57px;top:410px;font-size:10.9px;line-height:10.9px;transform:scaleX(1.220)">)</div>
<div class="t v" style="left:191.10px;top:410px;font-size:10.9px;line-height:10.9px;transform:scaleX(1.000)">T</div>
<div class="t v" style="left:198.20px;top:410px;font-size:10.9px;line-height:10.9px;transform:scaleX(1.032)">W</div>
<div class="t v" style="left:209.36px;top:410px;font-size:10.9px;line-height:10.9px;transform:scaleX(1.119)">h</div>
<div class="t v" style="left:220.76px;top:410px;font-size:10.9px;line-height:10.9px;transform:scaleX(1.220)">j</div>
<div class="t v" style="left:224.44px;top:410px;font-size:10.9px;line-height:10.9px;transform:scaleX(1.148)">m</div>
<div class="t v" style="left:235.34px;top:410px;font-size:10.9px;line-height:10.9px;transform:scaleX(1.220)">f</div>
<div class="t v" style="left:243.41px;top:410px;font-size:10.9px;line-height:10.9px;transform:scaleX(1.119)">n</div>
<div class="t v" style="left:250.60px;top:410px;font-size:10.9px;line-height:10.9px;transform:scaleX(1.073)">o</div>
<div class="t v" style="left:257.52px;top:410px;font-size:10.9px;line-height:10.9px;transform:scaleX(1.220)">r</div>
<div class="t v" style="left:262.49px;top:410px;font-size:10.9px;line-height:10.9px;transform:scaleX(1.148)">m</div>
<div class="t v" style="left:273.44px;top:410px;font-size:10.9px;line-height:10.9px;transform:scaleX(1.063)">a</div>
<div class="t v" style="left:280.18px;top:410px;font-size:10.9px;line-height:10.9px;transform:scaleX(1.214)">l</div>
<div class="t v" style="left:283.60px;top:410px;font-size:10.9px;line-height:10.9px;transform:scaleX(1.220)">t</div>
<div class="t n" style="left:323.20px;top:408.00px;font-size:11.0px;line-height:11.0px;transform:scaleX(1.0277)">14,2</div>
<div class="t n" style="left:404.80px;top:408.00px;font-size:11.0px;line-height:11.0px;transform:scaleX(1.0044)">15,5</div>
<div class="l" style="left:318px;top:413px;width:3px;height:2px;background:#1a1a1a"></div>
<div class="l" style="left:321px;top:413px;width:1px;height:2px;background:#b0b0b0"></div>
<div class="l" style="left:399px;top:413px;width:3px;height:2px;background:#1a1a1a"></div>
<div class="l" style="left:402px;top:413px;width:1px;height:2px;background:#a0a0a0"></div>
<div class="l" style="left:492px;top:411px;width:1px;height:13px;background:#f2dc8a"></div><div class="l" style="left:493px;top:411px;width:1px;height:13px;background:#86d4e2"></div><svg class="a" style="left:487px;top:407px" width="12" height="8" viewBox="487 407 12 8"><path d="M490.1 412.2L493.0 409.0L495.9 412.2" stroke="#4caf50" stroke-width="1.1" fill="none"/><path d="M490.8 411.3L495.2 411.3L493.0 408.7Z" fill="#4caf50"/></svg>
<div class="l" style="left:572px;top:411px;width:1px;height:13px;background:#f2dc8a"></div><div class="l" style="left:573px;top:411px;width:1px;height:13px;background:#86d4e2"></div><svg class="a" style="left:567px;top:407px" width="13" height="8" viewBox="567 407 13 8"><path d="M570.6 412.2L573.5 409.0L576.4 412.2" stroke="#4caf50" stroke-width="1.1" fill="none"/><path d="M571.3 411.3L575.7 411.3L573.5 408.7Z" fill="#4caf50"/></svg>
</body></html>
